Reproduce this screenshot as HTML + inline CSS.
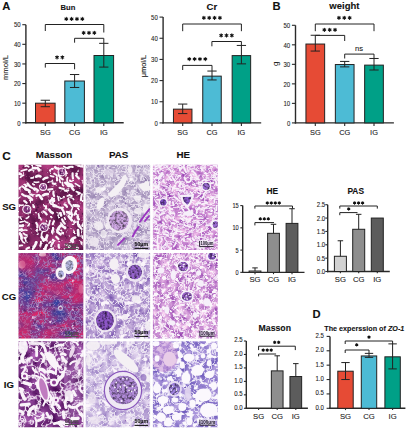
<!DOCTYPE html>
<html><head><meta charset="utf-8"><style>
html,body{margin:0;padding:0;background:#fff;width:410px;height:429px;overflow:hidden}
svg{display:block;font-family:"Liberation Sans", sans-serif}
text{stroke:#1a1a1a;stroke-width:0.1px}
text.nb{stroke:none}
</style></head><body>
<svg width="410" height="429" viewBox="0 0 410 429">
<line x1="25.90" y1="24.70" x2="25.90" y2="123.50" stroke="#2a2a2a" stroke-width="1.4"/>
<line x1="25.20" y1="122.80" x2="123.70" y2="122.80" stroke="#2a2a2a" stroke-width="1.4"/>
<line x1="22.30" y1="122.80" x2="25.90" y2="122.80" stroke="#2a2a2a" stroke-width="1.1"/>
<text x="20.60" y="125.54" font-size="7.6" text-anchor="end" font-weight="normal" fill="#222" textLength="3.3" lengthAdjust="spacingAndGlyphs">0</text>
<line x1="22.30" y1="103.18" x2="25.90" y2="103.18" stroke="#2a2a2a" stroke-width="1.1"/>
<text x="20.60" y="105.92" font-size="7.6" text-anchor="end" font-weight="normal" fill="#222" textLength="6.7" lengthAdjust="spacingAndGlyphs">10</text>
<line x1="22.30" y1="83.56" x2="25.90" y2="83.56" stroke="#2a2a2a" stroke-width="1.1"/>
<text x="20.60" y="86.30" font-size="7.6" text-anchor="end" font-weight="normal" fill="#222" textLength="6.7" lengthAdjust="spacingAndGlyphs">20</text>
<line x1="22.30" y1="63.94" x2="25.90" y2="63.94" stroke="#2a2a2a" stroke-width="1.1"/>
<text x="20.60" y="66.68" font-size="7.6" text-anchor="end" font-weight="normal" fill="#222" textLength="6.7" lengthAdjust="spacingAndGlyphs">30</text>
<line x1="22.30" y1="44.32" x2="25.90" y2="44.32" stroke="#2a2a2a" stroke-width="1.1"/>
<text x="20.60" y="47.06" font-size="7.6" text-anchor="end" font-weight="normal" fill="#222" textLength="6.7" lengthAdjust="spacingAndGlyphs">40</text>
<line x1="22.30" y1="24.70" x2="25.90" y2="24.70" stroke="#2a2a2a" stroke-width="1.1"/>
<text x="20.60" y="27.44" font-size="7.6" text-anchor="end" font-weight="normal" fill="#222" textLength="6.7" lengthAdjust="spacingAndGlyphs">50</text>
<rect x="35.50" y="103.18" width="19.60" height="19.62" fill="#E64B35" stroke="#222" stroke-width="1.0"/>
<line x1="45.30" y1="106.71" x2="45.30" y2="100.24" stroke="#222" stroke-width="1.0"/>
<line x1="40.65" y1="100.24" x2="49.95" y2="100.24" stroke="#222" stroke-width="1.0"/>
<line x1="40.65" y1="106.71" x2="49.95" y2="106.71" stroke="#222" stroke-width="1.0"/>
<line x1="45.30" y1="122.80" x2="45.30" y2="126.00" stroke="#2a2a2a" stroke-width="1.1"/>
<rect x="64.80" y="81.01" width="19.60" height="41.79" fill="#4DBBD5" stroke="#222" stroke-width="1.0"/>
<line x1="74.60" y1="87.48" x2="74.60" y2="74.53" stroke="#222" stroke-width="1.0"/>
<line x1="69.95" y1="74.53" x2="79.25" y2="74.53" stroke="#222" stroke-width="1.0"/>
<line x1="69.95" y1="87.48" x2="79.25" y2="87.48" stroke="#222" stroke-width="1.0"/>
<line x1="74.60" y1="122.80" x2="74.60" y2="126.00" stroke="#2a2a2a" stroke-width="1.1"/>
<rect x="94.00" y="55.50" width="19.60" height="67.30" fill="#00A087" stroke="#222" stroke-width="1.0"/>
<line x1="103.80" y1="67.08" x2="103.80" y2="43.34" stroke="#222" stroke-width="1.0"/>
<line x1="99.15" y1="43.34" x2="108.45" y2="43.34" stroke="#222" stroke-width="1.0"/>
<line x1="99.15" y1="67.08" x2="108.45" y2="67.08" stroke="#222" stroke-width="1.0"/>
<line x1="103.80" y1="122.80" x2="103.80" y2="126.00" stroke="#2a2a2a" stroke-width="1.1"/>
<text x="45.30" y="134.80" font-size="7.4" text-anchor="middle" font-weight="normal" fill="#222">SG</text>
<text x="74.60" y="134.80" font-size="7.4" text-anchor="middle" font-weight="normal" fill="#222">CG</text>
<text x="103.80" y="134.80" font-size="7.4" text-anchor="middle" font-weight="normal" fill="#222">IG</text>
<path d="M45.30 31.00V24.50H103.80V32.50" fill="none" stroke="#222" stroke-width="1.0"/>
<path d="M74.60 42.70V38.30H103.80V43.30" fill="none" stroke="#222" stroke-width="1.0"/>
<path d="M45.30 67.60V63.50H74.60V69.30" fill="none" stroke="#222" stroke-width="1.0"/>
<path d="M66.28 17.30L66.28 20.50M64.89 18.10L67.66 19.70M67.66 18.10L64.89 19.70" stroke="#111" stroke-width="1.05" stroke-linecap="round"/>
<circle cx="66.28" cy="18.90" r="0.88" fill="#111"/>
<path d="M71.62 17.30L71.62 20.50M70.24 18.10L73.01 19.70M73.01 18.10L70.24 19.70" stroke="#111" stroke-width="1.05" stroke-linecap="round"/>
<circle cx="71.62" cy="18.90" r="0.88" fill="#111"/>
<path d="M76.98 17.30L76.98 20.50M75.59 18.10L78.36 19.70M78.36 18.10L75.59 19.70" stroke="#111" stroke-width="1.05" stroke-linecap="round"/>
<circle cx="76.98" cy="18.90" r="0.88" fill="#111"/>
<path d="M82.33 17.30L82.33 20.50M80.94 18.10L83.71 19.70M83.71 18.10L80.94 19.70" stroke="#111" stroke-width="1.05" stroke-linecap="round"/>
<circle cx="82.33" cy="18.90" r="0.88" fill="#111"/>
<path d="M83.65 31.20L83.65 34.40M82.26 32.00L85.04 33.60M85.04 32.00L82.26 33.60" stroke="#111" stroke-width="1.05" stroke-linecap="round"/>
<circle cx="83.65" cy="32.80" r="0.88" fill="#111"/>
<path d="M89.00 31.20L89.00 34.40M87.61 32.00L90.39 33.60M90.39 32.00L87.61 33.60" stroke="#111" stroke-width="1.05" stroke-linecap="round"/>
<circle cx="89.00" cy="32.80" r="0.88" fill="#111"/>
<path d="M94.35 31.20L94.35 34.40M92.96 32.00L95.74 33.60M95.74 32.00L92.96 33.60" stroke="#111" stroke-width="1.05" stroke-linecap="round"/>
<circle cx="94.35" cy="32.80" r="0.88" fill="#111"/>
<path d="M57.03 55.70L57.03 58.90M55.64 56.50L58.41 58.10M58.41 56.50L55.64 58.10" stroke="#111" stroke-width="1.05" stroke-linecap="round"/>
<circle cx="57.03" cy="57.30" r="0.88" fill="#111"/>
<path d="M62.38 55.70L62.38 58.90M60.99 56.50L63.76 58.10M63.76 56.50L60.99 58.10" stroke="#111" stroke-width="1.05" stroke-linecap="round"/>
<circle cx="62.38" cy="57.30" r="0.88" fill="#111"/>
<text x="68.00" y="10.00" font-size="7.6" text-anchor="middle" font-weight="bold" fill="#111">Bun</text>
<text x="2.30" y="10.00" font-size="11.2" text-anchor="start" font-weight="bold" fill="#111">A</text>
<text transform="translate(7.7,67.5) rotate(-90)" font-size="7.2" text-anchor="middle" fill="#222" textLength="25" lengthAdjust="spacingAndGlyphs">mmol/L</text>
<line x1="163.10" y1="17.10" x2="163.10" y2="123.60" stroke="#2a2a2a" stroke-width="1.4"/>
<line x1="162.40" y1="122.90" x2="261.20" y2="122.90" stroke="#2a2a2a" stroke-width="1.4"/>
<line x1="159.50" y1="122.90" x2="163.10" y2="122.90" stroke="#2a2a2a" stroke-width="1.1"/>
<text x="157.80" y="125.64" font-size="7.6" text-anchor="end" font-weight="normal" fill="#222" textLength="3.3" lengthAdjust="spacingAndGlyphs">0</text>
<line x1="159.50" y1="101.74" x2="163.10" y2="101.74" stroke="#2a2a2a" stroke-width="1.1"/>
<text x="157.80" y="104.48" font-size="7.6" text-anchor="end" font-weight="normal" fill="#222" textLength="6.7" lengthAdjust="spacingAndGlyphs">10</text>
<line x1="159.50" y1="80.58" x2="163.10" y2="80.58" stroke="#2a2a2a" stroke-width="1.1"/>
<text x="157.80" y="83.32" font-size="7.6" text-anchor="end" font-weight="normal" fill="#222" textLength="6.7" lengthAdjust="spacingAndGlyphs">20</text>
<line x1="159.50" y1="59.42" x2="163.10" y2="59.42" stroke="#2a2a2a" stroke-width="1.1"/>
<text x="157.80" y="62.16" font-size="7.6" text-anchor="end" font-weight="normal" fill="#222" textLength="6.7" lengthAdjust="spacingAndGlyphs">30</text>
<line x1="159.50" y1="38.26" x2="163.10" y2="38.26" stroke="#2a2a2a" stroke-width="1.1"/>
<text x="157.80" y="41.00" font-size="7.6" text-anchor="end" font-weight="normal" fill="#222" textLength="6.7" lengthAdjust="spacingAndGlyphs">40</text>
<line x1="159.50" y1="17.10" x2="163.10" y2="17.10" stroke="#2a2a2a" stroke-width="1.1"/>
<text x="157.80" y="19.84" font-size="7.6" text-anchor="end" font-weight="normal" fill="#222" textLength="6.7" lengthAdjust="spacingAndGlyphs">50</text>
<rect x="173.45" y="109.15" width="18.50" height="13.75" fill="#E64B35" stroke="#222" stroke-width="1.0"/>
<line x1="182.70" y1="113.59" x2="182.70" y2="104.07" stroke="#222" stroke-width="1.0"/>
<line x1="178.05" y1="104.07" x2="187.35" y2="104.07" stroke="#222" stroke-width="1.0"/>
<line x1="178.05" y1="113.59" x2="187.35" y2="113.59" stroke="#222" stroke-width="1.0"/>
<line x1="182.70" y1="122.90" x2="182.70" y2="126.10" stroke="#2a2a2a" stroke-width="1.1"/>
<rect x="202.75" y="76.14" width="18.50" height="46.76" fill="#4DBBD5" stroke="#222" stroke-width="1.0"/>
<line x1="212.00" y1="79.95" x2="212.00" y2="71.06" stroke="#222" stroke-width="1.0"/>
<line x1="207.35" y1="71.06" x2="216.65" y2="71.06" stroke="#222" stroke-width="1.0"/>
<line x1="207.35" y1="79.95" x2="216.65" y2="79.95" stroke="#222" stroke-width="1.0"/>
<line x1="212.00" y1="122.90" x2="212.00" y2="126.10" stroke="#2a2a2a" stroke-width="1.1"/>
<rect x="232.15" y="55.61" width="18.50" height="67.29" fill="#00A087" stroke="#222" stroke-width="1.0"/>
<line x1="241.40" y1="63.86" x2="241.40" y2="45.45" stroke="#222" stroke-width="1.0"/>
<line x1="236.75" y1="45.45" x2="246.05" y2="45.45" stroke="#222" stroke-width="1.0"/>
<line x1="236.75" y1="63.86" x2="246.05" y2="63.86" stroke="#222" stroke-width="1.0"/>
<line x1="241.40" y1="122.90" x2="241.40" y2="126.10" stroke="#2a2a2a" stroke-width="1.1"/>
<text x="182.70" y="134.80" font-size="7.4" text-anchor="middle" font-weight="normal" fill="#222">SG</text>
<text x="212.00" y="134.80" font-size="7.4" text-anchor="middle" font-weight="normal" fill="#222">CG</text>
<text x="241.40" y="134.80" font-size="7.4" text-anchor="middle" font-weight="normal" fill="#222">IG</text>
<path d="M182.70 31.20V24.00H241.40V31.20" fill="none" stroke="#222" stroke-width="1.0"/>
<path d="M211.90 46.30V41.50H241.40V45.40" fill="none" stroke="#222" stroke-width="1.0"/>
<path d="M182.70 70.00V65.40H212.00V71.00" fill="none" stroke="#222" stroke-width="1.0"/>
<path d="M203.88 16.20L203.88 19.40M202.49 17.00L205.26 18.60M205.26 17.00L202.49 18.60" stroke="#111" stroke-width="1.05" stroke-linecap="round"/>
<circle cx="203.88" cy="17.80" r="0.88" fill="#111"/>
<path d="M209.22 16.20L209.22 19.40M207.84 17.00L210.61 18.60M210.61 17.00L207.84 18.60" stroke="#111" stroke-width="1.05" stroke-linecap="round"/>
<circle cx="209.22" cy="17.80" r="0.88" fill="#111"/>
<path d="M214.57 16.20L214.57 19.40M213.19 17.00L215.96 18.60M215.96 17.00L213.19 18.60" stroke="#111" stroke-width="1.05" stroke-linecap="round"/>
<circle cx="214.57" cy="17.80" r="0.88" fill="#111"/>
<path d="M219.93 16.20L219.93 19.40M218.54 17.00L221.31 18.60M221.31 17.00L218.54 18.60" stroke="#111" stroke-width="1.05" stroke-linecap="round"/>
<circle cx="219.93" cy="17.80" r="0.88" fill="#111"/>
<path d="M221.15 33.80L221.15 37.00M219.76 34.60L222.54 36.20M222.54 34.60L219.76 36.20" stroke="#111" stroke-width="1.05" stroke-linecap="round"/>
<circle cx="221.15" cy="35.40" r="0.88" fill="#111"/>
<path d="M226.50 33.80L226.50 37.00M225.11 34.60L227.89 36.20M227.89 34.60L225.11 36.20" stroke="#111" stroke-width="1.05" stroke-linecap="round"/>
<circle cx="226.50" cy="35.40" r="0.88" fill="#111"/>
<path d="M231.85 33.80L231.85 37.00M230.46 34.60L233.24 36.20M233.24 34.60L230.46 36.20" stroke="#111" stroke-width="1.05" stroke-linecap="round"/>
<circle cx="231.85" cy="35.40" r="0.88" fill="#111"/>
<path d="M189.28 57.40L189.28 60.60M187.89 58.20L190.66 59.80M190.66 58.20L187.89 59.80" stroke="#111" stroke-width="1.05" stroke-linecap="round"/>
<circle cx="189.28" cy="59.00" r="0.88" fill="#111"/>
<path d="M194.62 57.40L194.62 60.60M193.24 58.20L196.01 59.80M196.01 58.20L193.24 59.80" stroke="#111" stroke-width="1.05" stroke-linecap="round"/>
<circle cx="194.62" cy="59.00" r="0.88" fill="#111"/>
<path d="M199.97 57.40L199.97 60.60M198.59 58.20L201.36 59.80M201.36 58.20L198.59 59.80" stroke="#111" stroke-width="1.05" stroke-linecap="round"/>
<circle cx="199.97" cy="59.00" r="0.88" fill="#111"/>
<path d="M205.32 57.40L205.32 60.60M203.94 58.20L206.71 59.80M206.71 58.20L203.94 59.80" stroke="#111" stroke-width="1.05" stroke-linecap="round"/>
<circle cx="205.32" cy="59.00" r="0.88" fill="#111"/>
<text x="211.90" y="9.80" font-size="9.6" text-anchor="middle" font-weight="bold" fill="#111">Cr</text>
<text transform="translate(146,66) rotate(-90)" font-size="7.8" text-anchor="middle" fill="#222" textLength="22.3" lengthAdjust="spacingAndGlyphs">μmol/L</text>
<line x1="295.50" y1="25.30" x2="295.50" y2="123.60" stroke="#2a2a2a" stroke-width="1.4"/>
<line x1="294.80" y1="122.90" x2="393.90" y2="122.90" stroke="#2a2a2a" stroke-width="1.4"/>
<line x1="291.90" y1="122.90" x2="295.50" y2="122.90" stroke="#2a2a2a" stroke-width="1.1"/>
<text x="290.20" y="125.64" font-size="7.6" text-anchor="end" font-weight="normal" fill="#222" textLength="3.3" lengthAdjust="spacingAndGlyphs">0</text>
<line x1="291.90" y1="103.38" x2="295.50" y2="103.38" stroke="#2a2a2a" stroke-width="1.1"/>
<text x="290.20" y="106.12" font-size="7.6" text-anchor="end" font-weight="normal" fill="#222" textLength="6.7" lengthAdjust="spacingAndGlyphs">10</text>
<line x1="291.90" y1="83.86" x2="295.50" y2="83.86" stroke="#2a2a2a" stroke-width="1.1"/>
<text x="290.20" y="86.60" font-size="7.6" text-anchor="end" font-weight="normal" fill="#222" textLength="6.7" lengthAdjust="spacingAndGlyphs">20</text>
<line x1="291.90" y1="64.34" x2="295.50" y2="64.34" stroke="#2a2a2a" stroke-width="1.1"/>
<text x="290.20" y="67.08" font-size="7.6" text-anchor="end" font-weight="normal" fill="#222" textLength="6.7" lengthAdjust="spacingAndGlyphs">30</text>
<line x1="291.90" y1="44.82" x2="295.50" y2="44.82" stroke="#2a2a2a" stroke-width="1.1"/>
<text x="290.20" y="47.56" font-size="7.6" text-anchor="end" font-weight="normal" fill="#222" textLength="6.7" lengthAdjust="spacingAndGlyphs">40</text>
<line x1="291.90" y1="25.30" x2="295.50" y2="25.30" stroke="#2a2a2a" stroke-width="1.1"/>
<text x="290.20" y="28.04" font-size="7.6" text-anchor="end" font-weight="normal" fill="#222" textLength="6.7" lengthAdjust="spacingAndGlyphs">50</text>
<rect x="305.95" y="44.04" width="18.70" height="78.86" fill="#E64B35" stroke="#222" stroke-width="1.0"/>
<line x1="315.30" y1="51.07" x2="315.30" y2="35.26" stroke="#222" stroke-width="1.0"/>
<line x1="310.65" y1="35.26" x2="319.95" y2="35.26" stroke="#222" stroke-width="1.0"/>
<line x1="310.65" y1="51.07" x2="319.95" y2="51.07" stroke="#222" stroke-width="1.0"/>
<line x1="315.30" y1="122.90" x2="315.30" y2="126.10" stroke="#2a2a2a" stroke-width="1.1"/>
<rect x="335.35" y="64.54" width="18.70" height="58.36" fill="#4DBBD5" stroke="#222" stroke-width="1.0"/>
<line x1="344.70" y1="66.88" x2="344.70" y2="61.41" stroke="#222" stroke-width="1.0"/>
<line x1="340.05" y1="61.41" x2="349.35" y2="61.41" stroke="#222" stroke-width="1.0"/>
<line x1="340.05" y1="66.88" x2="349.35" y2="66.88" stroke="#222" stroke-width="1.0"/>
<line x1="344.70" y1="122.90" x2="344.70" y2="126.10" stroke="#2a2a2a" stroke-width="1.1"/>
<rect x="364.65" y="65.12" width="18.70" height="57.78" fill="#00A087" stroke="#222" stroke-width="1.0"/>
<line x1="374.00" y1="70.00" x2="374.00" y2="58.48" stroke="#222" stroke-width="1.0"/>
<line x1="369.35" y1="58.48" x2="378.65" y2="58.48" stroke="#222" stroke-width="1.0"/>
<line x1="369.35" y1="70.00" x2="378.65" y2="70.00" stroke="#222" stroke-width="1.0"/>
<line x1="374.00" y1="122.90" x2="374.00" y2="126.10" stroke="#2a2a2a" stroke-width="1.1"/>
<text x="315.30" y="134.80" font-size="7.4" text-anchor="middle" font-weight="normal" fill="#222">SG</text>
<text x="344.70" y="134.80" font-size="7.4" text-anchor="middle" font-weight="normal" fill="#222">CG</text>
<text x="374.00" y="134.80" font-size="7.4" text-anchor="middle" font-weight="normal" fill="#222">IG</text>
<path d="M315.30 31.20V24.00H374.00V31.20" fill="none" stroke="#222" stroke-width="1.0"/>
<path d="M315.30 35.40V35.40H344.70V41.00" fill="none" stroke="#222" stroke-width="1.0"/>
<path d="M344.70 58.50V54.10H374.00V58.50" fill="none" stroke="#222" stroke-width="1.0"/>
<path d="M338.95 16.20L338.95 19.40M337.56 17.00L340.34 18.60M340.34 17.00L337.56 18.60" stroke="#111" stroke-width="1.05" stroke-linecap="round"/>
<circle cx="338.95" cy="17.80" r="0.88" fill="#111"/>
<path d="M344.30 16.20L344.30 19.40M342.91 17.00L345.69 18.60M345.69 17.00L342.91 18.60" stroke="#111" stroke-width="1.05" stroke-linecap="round"/>
<circle cx="344.30" cy="17.80" r="0.88" fill="#111"/>
<path d="M349.65 16.20L349.65 19.40M348.26 17.00L351.04 18.60M351.04 17.00L348.26 18.60" stroke="#111" stroke-width="1.05" stroke-linecap="round"/>
<circle cx="349.65" cy="17.80" r="0.88" fill="#111"/>
<path d="M324.35 28.20L324.35 31.40M322.96 29.00L325.74 30.60M325.74 29.00L322.96 30.60" stroke="#111" stroke-width="1.05" stroke-linecap="round"/>
<circle cx="324.35" cy="29.80" r="0.88" fill="#111"/>
<path d="M329.70 28.20L329.70 31.40M328.31 29.00L331.09 30.60M331.09 29.00L328.31 30.60" stroke="#111" stroke-width="1.05" stroke-linecap="round"/>
<circle cx="329.70" cy="29.80" r="0.88" fill="#111"/>
<path d="M335.05 28.20L335.05 31.40M333.66 29.00L336.44 30.60M336.44 29.00L333.66 30.60" stroke="#111" stroke-width="1.05" stroke-linecap="round"/>
<circle cx="335.05" cy="29.80" r="0.88" fill="#111"/>
<text x="344.40" y="8.80" font-size="9.5" text-anchor="middle" font-weight="bold" fill="#111">weight</text>
<text x="272.40" y="9.90" font-size="11.2" text-anchor="start" font-weight="bold" fill="#111">B</text>
<text x="359.00" y="50.60" font-size="7.6" text-anchor="middle" font-weight="normal" fill="#222">ns</text>
<text transform="translate(278,63.8) rotate(-90)" font-size="8" text-anchor="middle" fill="#222">g</text>
<line x1="242.70" y1="205.60" x2="242.70" y2="273.05" stroke="#2a2a2a" stroke-width="1.4"/>
<line x1="242.00" y1="272.35" x2="304.50" y2="272.35" stroke="#2a2a2a" stroke-width="1.4"/>
<line x1="240.30" y1="272.35" x2="242.70" y2="272.35" stroke="#2a2a2a" stroke-width="1.1"/>
<text x="238.70" y="274.83" font-size="6.9" text-anchor="end" font-weight="normal" fill="#222" textLength="3.1" lengthAdjust="spacingAndGlyphs">0</text>
<line x1="240.30" y1="250.10" x2="242.70" y2="250.10" stroke="#2a2a2a" stroke-width="1.1"/>
<text x="238.70" y="252.58" font-size="6.9" text-anchor="end" font-weight="normal" fill="#222" textLength="3.1" lengthAdjust="spacingAndGlyphs">5</text>
<line x1="240.30" y1="227.85" x2="242.70" y2="227.85" stroke="#2a2a2a" stroke-width="1.1"/>
<text x="238.70" y="230.33" font-size="6.9" text-anchor="end" font-weight="normal" fill="#222" textLength="6.3" lengthAdjust="spacingAndGlyphs">10</text>
<line x1="240.30" y1="205.60" x2="242.70" y2="205.60" stroke="#2a2a2a" stroke-width="1.1"/>
<text x="238.70" y="208.08" font-size="6.9" text-anchor="end" font-weight="normal" fill="#222" textLength="6.3" lengthAdjust="spacingAndGlyphs">15</text>
<rect x="249.10" y="271.02" width="11.80" height="1.33" fill="#d2d2d2" stroke="#222" stroke-width="1.0"/>
<line x1="255.00" y1="271.02" x2="255.00" y2="267.90" stroke="#222" stroke-width="1.0"/>
<line x1="252.25" y1="267.90" x2="257.75" y2="267.90" stroke="#222" stroke-width="1.0"/>
<line x1="255.00" y1="272.35" x2="255.00" y2="274.15" stroke="#2a2a2a" stroke-width="1.1"/>
<rect x="267.60" y="233.32" width="11.80" height="39.03" fill="#8e8e8e" stroke="#222" stroke-width="1.0"/>
<line x1="273.50" y1="233.32" x2="273.50" y2="224.29" stroke="#222" stroke-width="1.0"/>
<line x1="270.75" y1="224.29" x2="276.25" y2="224.29" stroke="#222" stroke-width="1.0"/>
<line x1="273.50" y1="272.35" x2="273.50" y2="274.15" stroke="#2a2a2a" stroke-width="1.1"/>
<rect x="286.10" y="223.40" width="11.80" height="48.95" fill="#5c5c5c" stroke="#222" stroke-width="1.0"/>
<line x1="292.00" y1="223.40" x2="292.00" y2="208.72" stroke="#222" stroke-width="1.0"/>
<line x1="289.25" y1="208.72" x2="294.75" y2="208.72" stroke="#222" stroke-width="1.0"/>
<line x1="292.00" y1="272.35" x2="292.00" y2="274.15" stroke="#2a2a2a" stroke-width="1.1"/>
<text x="255.00" y="282.10" font-size="7.7" text-anchor="middle" font-weight="normal" fill="#222">SG</text>
<text x="273.50" y="282.10" font-size="7.7" text-anchor="middle" font-weight="normal" fill="#222">CG</text>
<text x="292.00" y="282.10" font-size="7.7" text-anchor="middle" font-weight="normal" fill="#222">IG</text>
<path d="M254.90 208.60V206.00H292.50V208.60" fill="none" stroke="#222" stroke-width="1.0"/>
<path d="M254.90 225.40V222.60H274.00V222.60" fill="none" stroke="#222" stroke-width="1.0"/>
<path d="M267.30 201.65L267.30 204.15M266.22 202.28L268.38 203.53M268.38 202.28L266.22 203.53" stroke="#111" stroke-width="1.05" stroke-linecap="round"/>
<circle cx="267.30" cy="202.90" r="0.69" fill="#111"/>
<path d="M271.30 201.65L271.30 204.15M270.22 202.28L272.38 203.53M272.38 202.28L270.22 203.53" stroke="#111" stroke-width="1.05" stroke-linecap="round"/>
<circle cx="271.30" cy="202.90" r="0.69" fill="#111"/>
<path d="M275.30 201.65L275.30 204.15M274.22 202.28L276.38 203.53M276.38 202.28L274.22 203.53" stroke="#111" stroke-width="1.05" stroke-linecap="round"/>
<circle cx="275.30" cy="202.90" r="0.69" fill="#111"/>
<path d="M279.30 201.65L279.30 204.15M278.22 202.28L280.38 203.53M280.38 202.28L278.22 203.53" stroke="#111" stroke-width="1.05" stroke-linecap="round"/>
<circle cx="279.30" cy="202.90" r="0.69" fill="#111"/>
<path d="M260.30 217.55L260.30 220.05M259.22 218.18L261.38 219.43M261.38 218.18L259.22 219.43" stroke="#111" stroke-width="1.05" stroke-linecap="round"/>
<circle cx="260.30" cy="218.80" r="0.69" fill="#111"/>
<path d="M264.30 217.55L264.30 220.05M263.22 218.18L265.38 219.43M265.38 218.18L263.22 219.43" stroke="#111" stroke-width="1.05" stroke-linecap="round"/>
<circle cx="264.30" cy="218.80" r="0.69" fill="#111"/>
<path d="M268.30 217.55L268.30 220.05M267.22 218.18L269.38 219.43M269.38 218.18L267.22 219.43" stroke="#111" stroke-width="1.05" stroke-linecap="round"/>
<circle cx="268.30" cy="218.80" r="0.69" fill="#111"/>
<text x="272.30" y="194.10" font-size="8.4" text-anchor="middle" font-weight="bold" fill="#111">HE</text>
<line x1="327.70" y1="204.70" x2="327.70" y2="272.20" stroke="#2a2a2a" stroke-width="1.4"/>
<line x1="327.00" y1="271.50" x2="389.80" y2="271.50" stroke="#2a2a2a" stroke-width="1.4"/>
<line x1="325.30" y1="271.50" x2="327.70" y2="271.50" stroke="#2a2a2a" stroke-width="1.1"/>
<text x="325.20" y="273.98" font-size="6.9" text-anchor="end" font-weight="normal" fill="#222" textLength="8.4" lengthAdjust="spacingAndGlyphs">0.0</text>
<line x1="325.30" y1="258.14" x2="327.70" y2="258.14" stroke="#2a2a2a" stroke-width="1.1"/>
<text x="325.20" y="260.62" font-size="6.9" text-anchor="end" font-weight="normal" fill="#222" textLength="8.4" lengthAdjust="spacingAndGlyphs">0.5</text>
<line x1="325.30" y1="244.78" x2="327.70" y2="244.78" stroke="#2a2a2a" stroke-width="1.1"/>
<text x="325.20" y="247.26" font-size="6.9" text-anchor="end" font-weight="normal" fill="#222" textLength="8.4" lengthAdjust="spacingAndGlyphs">1.0</text>
<line x1="325.30" y1="231.42" x2="327.70" y2="231.42" stroke="#2a2a2a" stroke-width="1.1"/>
<text x="325.20" y="233.90" font-size="6.9" text-anchor="end" font-weight="normal" fill="#222" textLength="8.4" lengthAdjust="spacingAndGlyphs">1.5</text>
<line x1="325.30" y1="218.06" x2="327.70" y2="218.06" stroke="#2a2a2a" stroke-width="1.1"/>
<text x="325.20" y="220.54" font-size="6.9" text-anchor="end" font-weight="normal" fill="#222" textLength="8.4" lengthAdjust="spacingAndGlyphs">2.0</text>
<line x1="325.30" y1="204.70" x2="327.70" y2="204.70" stroke="#2a2a2a" stroke-width="1.1"/>
<text x="325.20" y="207.18" font-size="6.9" text-anchor="end" font-weight="normal" fill="#222" textLength="8.4" lengthAdjust="spacingAndGlyphs">2.5</text>
<rect x="334.40" y="256.27" width="12.00" height="15.23" fill="#d2d2d2" stroke="#222" stroke-width="1.0"/>
<line x1="340.40" y1="256.27" x2="340.40" y2="240.77" stroke="#222" stroke-width="1.0"/>
<line x1="337.65" y1="240.77" x2="343.15" y2="240.77" stroke="#222" stroke-width="1.0"/>
<line x1="340.40" y1="271.50" x2="340.40" y2="273.30" stroke="#2a2a2a" stroke-width="1.1"/>
<rect x="352.70" y="229.28" width="12.00" height="42.22" fill="#8e8e8e" stroke="#222" stroke-width="1.0"/>
<line x1="358.70" y1="229.28" x2="358.70" y2="214.32" stroke="#222" stroke-width="1.0"/>
<line x1="355.95" y1="214.32" x2="361.45" y2="214.32" stroke="#222" stroke-width="1.0"/>
<line x1="358.70" y1="271.50" x2="358.70" y2="273.30" stroke="#2a2a2a" stroke-width="1.1"/>
<rect x="371.30" y="218.06" width="12.00" height="53.44" fill="#5c5c5c" stroke="#222" stroke-width="1.0"/>
<line x1="377.30" y1="271.50" x2="377.30" y2="273.30" stroke="#2a2a2a" stroke-width="1.1"/>
<text x="340.40" y="282.10" font-size="7.7" text-anchor="middle" font-weight="normal" fill="#222">SG</text>
<text x="358.70" y="282.10" font-size="7.7" text-anchor="middle" font-weight="normal" fill="#222">CG</text>
<text x="377.30" y="282.10" font-size="7.7" text-anchor="middle" font-weight="normal" fill="#222">IG</text>
<path d="M339.80 208.60V206.00H377.30V208.60" fill="none" stroke="#222" stroke-width="1.0"/>
<path d="M339.80 215.20V212.60H357.50V212.60" fill="none" stroke="#222" stroke-width="1.0"/>
<path d="M354.60 201.65L354.60 204.15M353.52 202.28L355.68 203.53M355.68 202.28L353.52 203.53" stroke="#111" stroke-width="1.05" stroke-linecap="round"/>
<circle cx="354.60" cy="202.90" r="0.69" fill="#111"/>
<path d="M358.60 201.65L358.60 204.15M357.52 202.28L359.68 203.53M359.68 202.28L357.52 203.53" stroke="#111" stroke-width="1.05" stroke-linecap="round"/>
<circle cx="358.60" cy="202.90" r="0.69" fill="#111"/>
<path d="M362.60 201.65L362.60 204.15M361.52 202.28L363.68 203.53M363.68 202.28L361.52 203.53" stroke="#111" stroke-width="1.05" stroke-linecap="round"/>
<circle cx="362.60" cy="202.90" r="0.69" fill="#111"/>
<path d="M348.70 207.65L348.70 210.15M347.62 208.28L349.78 209.53M349.78 208.28L347.62 209.53" stroke="#111" stroke-width="1.05" stroke-linecap="round"/>
<circle cx="348.70" cy="208.90" r="0.69" fill="#111"/>
<text x="355.70" y="194.10" font-size="8.4" text-anchor="middle" font-weight="bold" fill="#111">PAS</text>
<line x1="246.30" y1="341.00" x2="246.30" y2="409.00" stroke="#2a2a2a" stroke-width="1.4"/>
<line x1="245.60" y1="408.30" x2="307.90" y2="408.30" stroke="#2a2a2a" stroke-width="1.4"/>
<line x1="243.90" y1="408.30" x2="246.30" y2="408.30" stroke="#2a2a2a" stroke-width="1.1"/>
<text x="242.60" y="409.58" font-size="6.9" text-anchor="end" font-weight="normal" fill="#222" textLength="8.4" lengthAdjust="spacingAndGlyphs">0.0</text>
<line x1="243.90" y1="394.84" x2="246.30" y2="394.84" stroke="#2a2a2a" stroke-width="1.1"/>
<text x="242.60" y="396.12" font-size="6.9" text-anchor="end" font-weight="normal" fill="#222" textLength="8.4" lengthAdjust="spacingAndGlyphs">0.5</text>
<line x1="243.90" y1="381.38" x2="246.30" y2="381.38" stroke="#2a2a2a" stroke-width="1.1"/>
<text x="242.60" y="382.66" font-size="6.9" text-anchor="end" font-weight="normal" fill="#222" textLength="8.4" lengthAdjust="spacingAndGlyphs">1.0</text>
<line x1="243.90" y1="367.92" x2="246.30" y2="367.92" stroke="#2a2a2a" stroke-width="1.1"/>
<text x="242.60" y="369.20" font-size="6.9" text-anchor="end" font-weight="normal" fill="#222" textLength="8.4" lengthAdjust="spacingAndGlyphs">1.5</text>
<line x1="243.90" y1="354.46" x2="246.30" y2="354.46" stroke="#2a2a2a" stroke-width="1.1"/>
<text x="242.60" y="355.74" font-size="6.9" text-anchor="end" font-weight="normal" fill="#222" textLength="8.4" lengthAdjust="spacingAndGlyphs">2.0</text>
<line x1="243.90" y1="341.00" x2="246.30" y2="341.00" stroke="#2a2a2a" stroke-width="1.1"/>
<text x="242.60" y="342.28" font-size="6.9" text-anchor="end" font-weight="normal" fill="#222" textLength="8.4" lengthAdjust="spacingAndGlyphs">2.5</text>
<line x1="258.60" y1="408.30" x2="258.60" y2="410.10" stroke="#2a2a2a" stroke-width="1.1"/>
<rect x="271.35" y="370.88" width="11.70" height="37.42" fill="#8e8e8e" stroke="#222" stroke-width="1.0"/>
<line x1="277.20" y1="370.88" x2="277.20" y2="355.81" stroke="#222" stroke-width="1.0"/>
<line x1="274.45" y1="355.81" x2="279.95" y2="355.81" stroke="#222" stroke-width="1.0"/>
<line x1="277.20" y1="408.30" x2="277.20" y2="410.10" stroke="#2a2a2a" stroke-width="1.1"/>
<rect x="289.95" y="376.53" width="11.70" height="31.77" fill="#5c5c5c" stroke="#222" stroke-width="1.0"/>
<line x1="295.80" y1="376.53" x2="295.80" y2="363.61" stroke="#222" stroke-width="1.0"/>
<line x1="293.05" y1="363.61" x2="298.55" y2="363.61" stroke="#222" stroke-width="1.0"/>
<line x1="295.80" y1="408.30" x2="295.80" y2="410.10" stroke="#2a2a2a" stroke-width="1.1"/>
<text x="258.60" y="418.50" font-size="7.7" text-anchor="middle" font-weight="normal" fill="#222">SG</text>
<text x="277.20" y="418.50" font-size="7.7" text-anchor="middle" font-weight="normal" fill="#222">CG</text>
<text x="295.80" y="418.50" font-size="7.7" text-anchor="middle" font-weight="normal" fill="#222">IG</text>
<path d="M258.60 350.10V346.20H295.30V350.10" fill="none" stroke="#222" stroke-width="1.0"/>
<path d="M258.60 356.40V354.00H276.10V354.00" fill="none" stroke="#222" stroke-width="1.0"/>
<path d="M274.70 341.05L274.70 343.55M273.62 341.68L275.78 342.93M275.78 341.68L273.62 342.93" stroke="#111" stroke-width="1.05" stroke-linecap="round"/>
<circle cx="274.70" cy="342.30" r="0.69" fill="#111"/>
<path d="M278.70 341.05L278.70 343.55M277.62 341.68L279.78 342.93M279.78 341.68L277.62 342.93" stroke="#111" stroke-width="1.05" stroke-linecap="round"/>
<circle cx="278.70" cy="342.30" r="0.69" fill="#111"/>
<path d="M263.20 348.85L263.20 351.35M262.12 349.48L264.28 350.73M264.28 349.48L262.12 350.73" stroke="#111" stroke-width="1.05" stroke-linecap="round"/>
<circle cx="263.20" cy="350.10" r="0.69" fill="#111"/>
<path d="M267.20 348.85L267.20 351.35M266.12 349.48L268.28 350.73M268.28 349.48L266.12 350.73" stroke="#111" stroke-width="1.05" stroke-linecap="round"/>
<circle cx="267.20" cy="350.10" r="0.69" fill="#111"/>
<path d="M271.20 348.85L271.20 351.35M270.12 349.48L272.28 350.73M272.28 349.48L270.12 350.73" stroke="#111" stroke-width="1.05" stroke-linecap="round"/>
<circle cx="271.20" cy="350.10" r="0.69" fill="#111"/>
<text x="274.80" y="331.20" font-size="8.7" text-anchor="middle" font-weight="bold" fill="#111">Masson</text>
<line x1="330.00" y1="336.40" x2="330.00" y2="409.00" stroke="#2a2a2a" stroke-width="1.4"/>
<line x1="329.30" y1="408.30" x2="405.40" y2="408.30" stroke="#2a2a2a" stroke-width="1.4"/>
<line x1="326.60" y1="408.30" x2="330.00" y2="408.30" stroke="#2a2a2a" stroke-width="1.1"/>
<text x="323.80" y="409.68" font-size="6.9" text-anchor="end" font-weight="normal" fill="#222" textLength="8.4" lengthAdjust="spacingAndGlyphs">0.0</text>
<line x1="326.60" y1="393.92" x2="330.00" y2="393.92" stroke="#2a2a2a" stroke-width="1.1"/>
<text x="323.80" y="395.30" font-size="6.9" text-anchor="end" font-weight="normal" fill="#222" textLength="8.4" lengthAdjust="spacingAndGlyphs">0.5</text>
<line x1="326.60" y1="379.54" x2="330.00" y2="379.54" stroke="#2a2a2a" stroke-width="1.1"/>
<text x="323.80" y="380.92" font-size="6.9" text-anchor="end" font-weight="normal" fill="#222" textLength="8.4" lengthAdjust="spacingAndGlyphs">1.0</text>
<line x1="326.60" y1="365.16" x2="330.00" y2="365.16" stroke="#2a2a2a" stroke-width="1.1"/>
<text x="323.80" y="366.54" font-size="6.9" text-anchor="end" font-weight="normal" fill="#222" textLength="8.4" lengthAdjust="spacingAndGlyphs">1.5</text>
<line x1="326.60" y1="350.78" x2="330.00" y2="350.78" stroke="#2a2a2a" stroke-width="1.1"/>
<text x="323.80" y="352.16" font-size="6.9" text-anchor="end" font-weight="normal" fill="#222" textLength="8.4" lengthAdjust="spacingAndGlyphs">2.0</text>
<line x1="326.60" y1="336.40" x2="330.00" y2="336.40" stroke="#2a2a2a" stroke-width="1.1"/>
<text x="323.80" y="337.78" font-size="6.9" text-anchor="end" font-weight="normal" fill="#222" textLength="8.4" lengthAdjust="spacingAndGlyphs">2.5</text>
<rect x="337.80" y="371.20" width="15.40" height="37.10" fill="#E64B35" stroke="#222" stroke-width="1.0"/>
<line x1="345.50" y1="379.54" x2="345.50" y2="362.57" stroke="#222" stroke-width="1.0"/>
<line x1="341.30" y1="362.57" x2="349.70" y2="362.57" stroke="#222" stroke-width="1.0"/>
<line x1="341.30" y1="379.54" x2="349.70" y2="379.54" stroke="#222" stroke-width="1.0"/>
<line x1="345.50" y1="408.30" x2="345.50" y2="410.10" stroke="#2a2a2a" stroke-width="1.1"/>
<rect x="361.30" y="355.96" width="15.40" height="52.34" fill="#4DBBD5" stroke="#222" stroke-width="1.0"/>
<line x1="369.00" y1="357.39" x2="369.00" y2="353.37" stroke="#222" stroke-width="1.0"/>
<line x1="364.80" y1="353.37" x2="373.20" y2="353.37" stroke="#222" stroke-width="1.0"/>
<line x1="364.80" y1="357.39" x2="373.20" y2="357.39" stroke="#222" stroke-width="1.0"/>
<line x1="369.00" y1="408.30" x2="369.00" y2="410.10" stroke="#2a2a2a" stroke-width="1.1"/>
<rect x="384.90" y="356.82" width="15.40" height="51.48" fill="#00A087" stroke="#222" stroke-width="1.0"/>
<line x1="392.60" y1="368.90" x2="392.60" y2="343.88" stroke="#222" stroke-width="1.0"/>
<line x1="388.40" y1="343.88" x2="396.80" y2="343.88" stroke="#222" stroke-width="1.0"/>
<line x1="388.40" y1="368.90" x2="396.80" y2="368.90" stroke="#222" stroke-width="1.0"/>
<line x1="392.60" y1="408.30" x2="392.60" y2="410.10" stroke="#2a2a2a" stroke-width="1.1"/>
<text x="345.50" y="418.90" font-size="7.7" text-anchor="middle" font-weight="normal" fill="#222">SG</text>
<text x="369.00" y="418.90" font-size="7.7" text-anchor="middle" font-weight="normal" fill="#222">CG</text>
<text x="392.60" y="418.90" font-size="7.7" text-anchor="middle" font-weight="normal" fill="#222">IG</text>
<path d="M345.20 344.00V341.00H392.60V344.00" fill="none" stroke="#222" stroke-width="1.0"/>
<path d="M345.20 353.00V350.00H369.00V353.00" fill="none" stroke="#222" stroke-width="1.0"/>
<path d="M369.00 335.85L369.00 338.35M367.92 336.48L370.08 337.73M370.08 336.48L367.92 337.73" stroke="#111" stroke-width="1.05" stroke-linecap="round"/>
<circle cx="369.00" cy="337.10" r="0.69" fill="#111"/>
<path d="M356.70 343.55L356.70 346.05M355.62 344.18L357.78 345.43M357.78 344.18L355.62 345.43" stroke="#111" stroke-width="1.05" stroke-linecap="round"/>
<circle cx="356.70" cy="344.80" r="0.69" fill="#111"/>
<text x="312.40" y="318.40" font-size="11.2" text-anchor="start" font-weight="bold" fill="#111">D</text>
<text x="324.30" y="330.80" font-size="7.6" text-anchor="start" font-weight="bold" fill="#111" textLength="80.0" lengthAdjust="spacingAndGlyphs">The experssion of <tspan font-style="italic">ZO-1</tspan></text>
<text x="2.30" y="160.00" font-size="11.8" text-anchor="start" font-weight="bold" fill="#111">C</text>
<text x="54.10" y="157.70" font-size="9.8" text-anchor="middle" font-weight="bold" fill="#111">Masson</text>
<text x="118.70" y="157.70" font-size="9.8" text-anchor="middle" font-weight="bold" fill="#111">PAS</text>
<text x="183.30" y="157.70" font-size="9.8" text-anchor="middle" font-weight="bold" fill="#111">HE</text>
<text x="9.10" y="209.90" font-size="9.6" text-anchor="middle" font-weight="bold" fill="#111">SG</text>
<text x="9.00" y="300.00" font-size="9.6" text-anchor="middle" font-weight="bold" fill="#111">CG</text>
<text x="8.90" y="387.80" font-size="9.6" text-anchor="middle" font-weight="bold" fill="#111">IG</text>
<g clip-path="url(#cmSG)">
<rect x="18.5" y="164.8" width="64.8" height="85.3" filter="url(#tmSG)"/>
<g filter="url(#sb)"><path d="M17.5 204.1q2.6 1.8 5.7 0.9M30.3 186.9q3.0 0.8 4.5 3.5M26.3 218.4q1.6 -0.4 2.4 -1.8M68.1 245.2q0.8 1.4 1.0 2.9M70.6 204.3q0.6 1.8 2.0 3.0M67.3 196.0q2.3 -1.2 4.5 0.1M22.3 245.4q-1.4 -0.1 -2.8 0.1M40.9 241.5q0.1 2.3 -0.7 4.4M72.2 208.7q-1.1 1.3 -0.9 3.0M63.8 166.5q1.3 0.9 2.8 1.3M67.6 177.7q-1.3 2.6 0.2 5.0M20.5 177.2q1.1 -1.5 3.0 -2.0M75.1 164.3q1.9 0.3 3.8 1.0M52.4 248.5q-2.4 0.0 -3.9 1.8M50.0 220.6q-0.6 2.4 -1.3 4.8M21.2 171.0q2.7 -1.0 5.6 -1.6M76.9 247.1q0.5 2.6 -0.8 4.9M54.0 173.6q2.2 0.4 3.0 2.5M38.6 213.9q0.6 2.1 0.5 4.2M50.4 175.8q1.5 0.8 3.2 0.8M25.2 166.1q2.0 -0.7 3.6 0.7M49.8 202.3q0.9 2.0 3.1 2.4M62.5 182.4q-0.2 1.5 0.3 2.9M76.3 191.6q1.8 1.1 3.8 1.5M33.1 204.8q0.8 1.1 1.2 2.3M24.6 221.0q1.3 1.3 3.1 1.7M24.6 243.0q-2.3 -0.8 -2.9 -3.1M59.6 179.2q-0.2 1.7 0.8 3.2M21.5 231.1q2.5 -1.6 5.3 -0.9M16.4 191.2q1.0 -3.2 4.2 -4.0M30.1 194.7q1.7 0.0 2.8 1.2M20.1 222.1q1.5 -0.3 3.0 -0.6M23.5 233.3q1.2 1.9 3.5 1.8M75.3 183.6q2.1 1.3 4.2 2.7M34.2 182.0q2.2 0.7 4.5 -0.0M42.9 231.2q-1.9 2.3 -1.2 5.2M58.2 197.5q0.3 1.5 0.6 2.9M78.0 166.0q2.7 -0.2 5.1 1.0" stroke="#fbf6fb" stroke-width="1.7" stroke-linecap="round" fill="none"/><path d="M54.0 221.1q-0.9 1.4 -1.2 3.0M36.4 196.0q1.3 -1.2 3.0 -0.8M71.4 212.5q1.3 2.3 0.1 4.6M58.7 244.8q-0.4 1.5 0.4 2.9M52.9 229.6q-0.9 1.2 -0.9 2.7M52.0 198.2q0.6 1.7 2.2 2.5M58.6 175.1q1.3 2.9 4.1 4.3M72.6 173.4q-0.2 2.6 0.4 5.0M24.2 200.9q1.4 0.6 2.4 1.9M64.5 204.4q1.8 0.7 2.5 2.5M22.2 186.4q2.3 1.3 4.1 3.2M62.1 219.3q0.8 2.5 2.7 4.4M71.5 184.6q-0.4 3.4 2.3 5.5M34.5 188.3q2.0 0.9 3.6 2.3M29.1 247.6q-1.7 0.2 -2.7 1.6M52.7 243.1q-1.5 1.3 -1.5 3.2M61.9 208.8q1.9 2.4 2.5 5.3M53.5 191.5q-0.6 2.4 0.6 4.5M43.4 211.5q2.2 0.8 3.3 2.9M76.1 211.1q-0.8 1.8 -1.7 3.6M81.9 194.3q-0.8 2.9 -0.9 5.8M64.8 190.6q1.7 0.8 3.4 -0.2M48.3 189.5q2.1 0.0 4.1 -0.5M67.5 185.5q1.6 1.2 3.4 0.5M36.3 222.9q1.8 2.0 1.0 4.5M68.3 199.1q0.3 2.3 1.2 4.3M35.7 164.2q2.3 1.3 4.9 1.8M76.1 175.4q1.4 1.5 2.8 3.1M43.2 179.5q1.7 -2.0 4.3 -1.9M52.8 183.5q1.3 0.6 2.7 0.2M67.6 167.8q2.3 -1.5 5.0 -0.9M29.0 170.8q1.0 -1.0 2.4 -1.1M27.5 183.4q1.2 2.1 3.1 3.7M57.7 206.9q2.4 1.4 5.2 0.7M56.2 236.7q1.1 1.2 2.2 2.4M59.6 187.8q1.9 1.0 4.1 1.0M79.1 224.8q0.5 2.6 2.6 4.2M66.8 211.9q1.4 -0.1 2.5 0.8M78.0 221.5q-0.5 2.5 0.6 4.8M22.1 194.1q1.8 1.5 4.0 2.1" stroke="#fbf6fb" stroke-width="2.2" stroke-linecap="round" fill="none"/><path d="M60.3 225.9q-2.1 1.8 -2.9 4.4M41.7 237.2q1.4 1.4 1.8 3.4M36.4 242.3q-1.0 2.7 -2.6 5.2M68.7 216.3q1.6 1.9 3.1 3.9M77.8 216.2q-0.4 1.7 0.8 3.0M60.1 213.2q0.9 1.0 1.0 2.3M75.1 237.5q-2.8 0.4 -3.9 3.0M61.5 224.4q1.2 2.4 3.6 3.6M43.1 195.3q2.1 -1.4 4.7 -1.2M16.3 173.7q2.3 -0.7 4.4 0.5M32.9 168.2q1.5 -0.1 3.0 -0.1M55.2 167.3q1.3 1.4 3.1 1.3M83.7 223.4q-0.1 1.4 -1.1 2.4M25.4 189.1q2.3 0.4 4.1 1.7M40.3 196.4q0.6 1.4 1.6 2.5M47.2 235.4q-0.8 2.0 -1.2 4.1M73.6 205.3q2.5 0.4 5.1 1.0M18.4 225.8q2.3 0.2 4.5 -0.1M21.5 238.7q0.5 -3.0 -1.6 -5.2M37.7 168.0q1.1 0.9 1.3 2.3M16.8 229.2q2.4 1.5 4.9 0.2M36.2 176.6q2.0 -1.3 4.2 -0.2M78.0 230.2q0.3 2.6 0.4 5.1M57.4 231.9q1.5 1.2 3.0 2.4M49.2 209.6q1.2 2.3 3.5 3.4M53.5 205.8q1.4 -0.0 2.8 0.5M46.7 245.1q-1.4 2.1 -1.4 4.6" stroke="#fbf6fb" stroke-width="2.7" stroke-linecap="round" fill="none"/></g>
<g filter="url(#sb)">
<circle cx="26.8" cy="209.3" r="4.6" fill="#f8eef6"/><circle cx="26.8" cy="209.3" r="3.40" fill="#8a3a80"/><circle cx="28.6" cy="211.3" r="0.8" fill="#6a2a70"/><circle cx="28.7" cy="211.0" r="0.6" fill="#6a2a70"/><circle cx="27.0" cy="208.4" r="0.4" fill="#6a2a70"/><circle cx="24.5" cy="210.3" r="0.4" fill="#6a2a70"/><circle cx="26.5" cy="211.9" r="0.7" fill="#4a1050"/><circle cx="27.2" cy="209.0" r="0.4" fill="#f0e0f0"/><circle cx="29.5" cy="209.5" r="0.7" fill="#6a2a70"/><circle cx="26.5" cy="207.2" r="0.8" fill="#6a2a70"/><circle cx="25.2" cy="208.7" r="0.7" fill="#6a2a70"/><circle cx="29.5" cy="208.5" r="0.6" fill="#f0e0f0"/><circle cx="27.6" cy="208.9" r="0.7" fill="#f0e0f0"/><circle cx="27.4" cy="208.5" r="0.6" fill="#f0e0f0"/><circle cx="28.8" cy="209.0" r="0.9" fill="#f0e0f0"/><circle cx="27.9" cy="207.2" r="0.6" fill="#f0e0f0"/><circle cx="28.8" cy="209.0" r="0.9" fill="#6a2a70"/><circle cx="26.3" cy="209.0" r="0.5" fill="#6a2a70"/>
<circle cx="44" cy="227.3" r="4.8" fill="#f8eef6"/><circle cx="44" cy="227.3" r="3.60" fill="#8a3a80"/><circle cx="46.9" cy="226.5" r="0.4" fill="#4a1050"/><circle cx="43.2" cy="228.3" r="0.8" fill="#6a2a70"/><circle cx="44.0" cy="228.7" r="0.4" fill="#f0e0f0"/><circle cx="45.1" cy="229.0" r="0.6" fill="#f0e0f0"/><circle cx="45.4" cy="225.6" r="0.6" fill="#6a2a70"/><circle cx="41.1" cy="227.3" r="0.8" fill="#6a2a70"/><circle cx="42.3" cy="227.7" r="0.6" fill="#f0e0f0"/><circle cx="44.7" cy="228.4" r="0.5" fill="#4a1050"/><circle cx="43.5" cy="228.3" r="0.7" fill="#f0e0f0"/><circle cx="43.4" cy="226.1" r="0.8" fill="#6a2a70"/><circle cx="43.7" cy="224.4" r="0.8" fill="#f0e0f0"/><circle cx="42.2" cy="229.7" r="0.9" fill="#4a1050"/><circle cx="45.9" cy="226.8" r="0.8" fill="#f0e0f0"/><circle cx="41.9" cy="226.9" r="0.9" fill="#f0e0f0"/><circle cx="41.3" cy="227.0" r="0.7" fill="#6a2a70"/><circle cx="45.7" cy="226.1" r="0.7" fill="#f0e0f0"/><circle cx="43.6" cy="225.2" r="0.5" fill="#6a2a70"/><circle cx="45.1" cy="224.7" r="0.8" fill="#f0e0f0"/>
<circle cx="43.2" cy="186.9" r="4.0" fill="#f8eef6"/><circle cx="43.2" cy="186.9" r="2.80" fill="#9a4a90"/><circle cx="43.3" cy="188.7" r="0.6" fill="#f0e0f0"/><circle cx="41.4" cy="187.2" r="0.7" fill="#6a2a70"/><circle cx="43.1" cy="188.1" r="0.9" fill="#6a2a70"/><circle cx="41.5" cy="186.5" r="0.6" fill="#4a1050"/><circle cx="43.3" cy="187.8" r="0.9" fill="#6a2a70"/><circle cx="43.1" cy="185.0" r="0.4" fill="#f0e0f0"/><circle cx="45.2" cy="187.5" r="0.8" fill="#6a2a70"/><circle cx="41.2" cy="187.2" r="0.8" fill="#f0e0f0"/><circle cx="43.6" cy="185.4" r="0.8" fill="#f0e0f0"/><circle cx="41.0" cy="187.7" r="0.8" fill="#4a1050"/><circle cx="44.8" cy="187.3" r="0.5" fill="#f0e0f0"/><circle cx="41.5" cy="187.6" r="0.6" fill="#f0e0f0"/>
<circle cx="61.9" cy="172" r="4.4" fill="#f8eef6"/><circle cx="61.9" cy="172" r="3.20" fill="#9a4a90"/><circle cx="62.0" cy="172.9" r="0.6" fill="#4a1050"/><circle cx="62.2" cy="172.2" r="0.7" fill="#6a2a70"/><circle cx="62.6" cy="169.7" r="0.5" fill="#f0e0f0"/><circle cx="60.4" cy="173.8" r="0.8" fill="#6a2a70"/><circle cx="62.5" cy="174.6" r="0.8" fill="#6a2a70"/><circle cx="62.3" cy="170.9" r="0.6" fill="#f0e0f0"/><circle cx="63.7" cy="170.0" r="0.8" fill="#6a2a70"/><circle cx="63.7" cy="173.1" r="0.7" fill="#f0e0f0"/><circle cx="61.9" cy="173.4" r="0.5" fill="#f0e0f0"/><circle cx="62.0" cy="171.8" r="0.5" fill="#f0e0f0"/><circle cx="63.8" cy="170.3" r="0.7" fill="#6a2a70"/><circle cx="60.6" cy="172.7" r="0.6" fill="#4a1050"/><circle cx="61.1" cy="174.3" r="0.4" fill="#4a1050"/><circle cx="59.3" cy="172.6" r="0.7" fill="#f0e0f0"/><circle cx="60.3" cy="172.3" r="0.9" fill="#4a1050"/>
<ellipse cx="69" cy="184.5" rx="5.5" ry="1.8" transform="rotate(25 69 184.5)" fill="#fbf6fb"/>
<ellipse cx="30" cy="198" rx="4" ry="1.6" transform="rotate(40 30 198)" fill="#fbf6fb"/>
<ellipse cx="52" cy="200" rx="3.5" ry="1.4" transform="rotate(-30 52 200)" fill="#fbf6fb"/>
<text x="71.8" y="246.5" font-size="6" text-anchor="middle" font-weight="bold" fill="#555" textLength="13.5" lengthAdjust="spacingAndGlyphs">50μm</text><line x1="65" y1="248.5" x2="78.5" y2="248.5" stroke="#555" stroke-width="1"/>
</g>
</g>
<g clip-path="url(#cpSG)">
<rect x="85.7" y="164.8" width="64.4" height="85.3" filter="url(#tpSG)"/>
<g filter="url(#sb)">
<path d="M107.9 193.9L111 197.8L117.2 194.7L123.5 186.9L127.4 179.1L125.8 174.4L122.7 175.9L119.6 182.2L113.3 188.4Z" fill="#f4f0f4"/>
<ellipse cx="145" cy="187" rx="6" ry="3.5" transform="rotate(20 145 187)" fill="#f4f0f4"/>
<ellipse cx="98.5" cy="190" rx="3" ry="3" transform="rotate(0 98.5 190)" fill="#f4f0f4" opacity="0.9"/>
<ellipse cx="130" cy="170" rx="2.5" ry="3" transform="rotate(0 130 170)" fill="#f4f0f4" opacity="0.9"/>
<ellipse cx="137.5" cy="198" rx="4" ry="2.5" transform="rotate(10 137.5 198)" fill="#f4f0f4" opacity="0.9"/>
<ellipse cx="138" cy="211" rx="4" ry="3" transform="rotate(0 138 211)" fill="#f4f0f4" opacity="0.85"/>
<ellipse cx="100.5" cy="203.5" rx="3" ry="6.5" transform="rotate(25 100.5 203.5)" fill="#f4f0f4"/>
<ellipse cx="145.5" cy="186" rx="3" ry="5.5" transform="rotate(30 145.5 186)" fill="#f4f0f4"/>
<ellipse cx="145.8" cy="208.5" rx="3" ry="5" transform="rotate(0 145.8 208.5)" fill="#f4f0f4" opacity="0.9"/>
<ellipse cx="107.7" cy="226" rx="2.5" ry="3.5" transform="rotate(0 107.7 226)" fill="#f4f0f4" opacity="0.9"/>
<ellipse cx="98.5" cy="225.7" rx="4.5" ry="4.5" transform="rotate(0 98.5 225.7)" fill="#f4f0f4" opacity="0.9"/>
<ellipse cx="103.5" cy="234" rx="3" ry="4" transform="rotate(0 103.5 234)" fill="#f4f0f4" opacity="0.8"/>
<ellipse cx="94" cy="242" rx="5" ry="4.5" transform="rotate(0 94 242)" fill="#ece6ee" opacity="0.9"/>
<ellipse cx="109" cy="172" rx="5" ry="3" transform="rotate(0 109 172)" fill="#e0d4e8" opacity="0.8"/>
<ellipse cx="119.5" cy="220.5" rx="12.5" ry="12.8" transform="rotate(0 119.5 220.5)" fill="#efe8f2"/>
<ellipse cx="119" cy="220.5" rx="10" ry="10.2" fill="#cfa8e4" filter="url(#mot)"/>
<path d="M149.5 209.2L144 216L140 221.8M138.5 227L135 232L132.7 236.5M124.3 238.6L118 244.9M149 216L145 221" stroke="#9a34c0" stroke-width="1.9" stroke-linecap="round" fill="none"/>
<text x="141.3" y="245.6" font-size="6" text-anchor="middle" font-weight="bold" fill="#111" textLength="13.6" lengthAdjust="spacingAndGlyphs">50μm</text><line x1="134.5" y1="248.4" x2="148.1" y2="248.4" stroke="#111" stroke-width="1"/>
</g>
</g>
<g clip-path="url(#chSG)">
<rect x="152.9" y="164.8" width="64.9" height="85.3" filter="url(#thSG)"/>
<g filter="url(#sb)"><path d="M161.3 237.6q0.0 1.4 1.1 2.3M156.2 221.4q-0.2 2.5 1.6 4.2M195.6 228.2q0.6 -1.7 2.0 -2.9M154.9 198.1q1.5 -1.1 3.2 -2.0M195.6 236.0q1.5 1.6 3.3 2.9M158.3 224.8q2.4 0.5 4.9 0.3M184.3 224.0q1.0 1.2 1.7 2.6M159.2 227.8q-0.2 1.9 -0.2 3.8M193.9 179.4q2.3 -1.2 4.6 -0.0M166.9 196.0q-0.2 2.0 -1.0 3.9M183.7 186.1q1.0 2.3 0.8 4.8M155.8 201.7q1.6 1.5 2.7 3.3M194.1 187.3q2.0 0.6 3.6 1.8M172.3 174.0q-0.8 2.3 -2.9 3.4M188.9 245.9q1.4 -0.1 2.5 0.8M178.3 215.5q1.4 -0.2 2.5 -1.1M154.1 244.3q-1.7 1.5 -1.3 3.8M159.4 193.1q1.0 1.3 0.9 2.9M160.2 168.0q0.5 1.4 -0.4 2.7M182.7 189.6q0.7 2.3 2.2 4.1M172.8 230.6q-1.6 2.2 -0.8 4.9M208.0 245.0q1.4 -2.1 3.6 -3.4M155.3 164.9q2.6 -0.1 4.5 1.6M166.9 241.1q-1.4 1.5 -1.7 3.5M153.9 178.6q1.8 1.7 1.5 4.2M184.4 236.8q1.9 -0.3 3.8 -0.9M160.1 177.2q-0.3 2.0 -1.7 3.6M187.4 247.8q0.4 2.1 0.6 4.3M165.1 164.7q1.5 1.2 2.3 2.8M205.9 226.0q1.7 -0.2 3.2 -1.2M157.2 199.9q1.7 -0.8 3.5 -0.6M163.5 218.2q1.5 1.7 2.6 3.7M158.7 206.0q-0.3 2.4 1.6 3.9M186.1 220.3q0.5 1.5 2.0 2.1M151.7 239.4q2.3 0.6 3.6 2.6M177.3 240.8q0.8 1.6 2.4 2.3M157.8 170.4q0.8 1.5 1.2 3.2M155.4 232.7q1.6 0.5 3.2 -0.2M161.1 172.8q1.4 1.3 2.9 2.4M199.2 208.5q2.4 0.3 4.3 1.8M155.8 210.4q1.8 1.3 3.7 2.6M164.4 237.8q0.5 2.5 2.8 3.7M178.2 199.8q1.2 0.7 2.0 1.8M206.8 197.1q1.5 0.0 2.8 0.7M178.3 177.4q-1.1 0.9 -1.9 1.9M173.7 216.7q-0.5 1.4 -0.4 2.8M198.9 225.3q1.5 0.1 2.7 -0.7M163.3 229.2q-0.1 1.3 -0.3 2.5M208.5 234.5q1.1 -0.8 2.3 -1.5M215.3 212.9q2.5 0.2 4.5 1.6M214.9 229.5q1.9 0.7 2.6 2.5M163.9 185.9q1.8 0.0 3.5 0.9M212.3 177.5q1.8 -0.1 3.5 -0.6M188.6 232.8q1.5 -1.8 3.7 -2.7M203.0 213.5q1.4 -1.6 1.1 -3.6M171.6 224.8q-2.1 1.8 -1.7 4.5M204.5 179.7q2.4 1.2 4.9 0.2" stroke="#f8f2fa" stroke-width="1.2" stroke-linecap="round" fill="none"/><path d="M175.4 242.7q-0.1 2.3 -1.7 3.9M178.4 192.7q1.0 1.1 0.6 2.5M213.3 165.6q2.3 0.5 4.3 -0.9M151.5 171.9q1.9 -0.9 3.8 0.0M198.8 236.6q1.8 0.8 3.7 0.7M177.6 181.6q-1.3 0.8 -2.0 2.2M203.6 194.2q1.1 -1.5 2.3 -2.8M170.2 208.4q1.1 0.7 2.4 1.2M169.0 177.8q1.5 0.5 2.0 2.0M214.5 212.9q1.3 -2.5 -0.3 -4.8M182.7 209.4q0.9 0.9 1.4 2.1M192.7 184.2q1.7 0.2 2.8 1.4M167.5 215.2q2.0 1.5 3.6 3.4M187.5 238.6q2.6 0.3 3.9 2.7M196.1 209.5q2.4 -0.5 3.7 -2.5M209.2 208.4q1.3 -0.6 2.7 -0.8M179.9 247.1q0.7 1.2 1.5 2.3M173.8 227.1q0.5 1.6 1.3 3.1M160.3 189.3q0.7 1.2 2.0 1.7M210.8 196.6q2.0 0.8 4.1 1.6M152.0 222.4q2.0 0.3 3.4 -1.1M174.4 220.3q2.1 1.0 4.3 2.0M201.2 168.3q0.8 1.5 2.1 2.7M172.2 170.2q0.6 1.4 1.6 2.7M173.3 187.0q-0.6 2.1 -1.1 4.2M212.7 218.3q1.9 -1.7 4.0 -2.9M197.7 192.4q0.8 1.3 2.4 1.3M210.8 245.6q0.9 1.3 2.2 2.3M208.9 213.9q1.4 0.4 2.7 -0.3M196.9 246.9q1.9 1.0 3.9 1.9M190.8 174.6q0.3 2.0 1.9 3.2M194.9 220.5q2.3 0.3 3.8 2.1M168.4 168.5q1.7 0.8 2.3 2.5M161.3 247.5q0.2 2.1 0.1 4.1M181.9 205.5q0.2 1.5 0.1 3.0M181.9 172.3q1.2 0.4 2.3 1.2M162.9 227.1q1.7 -1.2 3.6 -0.4M184.4 165.3q-0.9 2.7 -3.6 3.4M198.1 218.3q2.4 -0.5 4.9 -0.1M206.2 240.3q1.2 -0.7 2.5 -1.2M171.5 213.2q1.5 0.4 3.0 0.2M190.3 212.5q1.2 -0.9 1.7 -2.4M213.9 172.3q1.0 1.4 2.6 2.1M210.4 183.7q1.7 -0.3 3.1 -1.3M212.1 241.2q2.7 -0.9 3.2 -3.7M171.0 222.9q1.4 0.1 2.8 0.3M199.0 186.1q1.2 0.8 1.3 2.2M200.8 232.0q1.2 -1.5 1.4 -3.4M176.4 229.1q0.6 2.2 -0.3 4.3M163.9 190.4q1.4 1.8 2.6 3.7M204.5 208.8q1.8 -1.6 4.0 -2.4M202.8 223.1q1.6 -1.3 3.0 -2.8M161.0 214.5q1.7 -0.8 3.6 -1.3M216.8 197.3q0.1 -2.3 1.9 -3.7M190.3 191.6q1.2 2.1 3.3 3.2M215.8 183.4q1.0 2.2 3.4 2.8" stroke="#f8f2fa" stroke-width="1.5" stroke-linecap="round" fill="none"/><path d="M214.4 202.3q-0.4 -1.5 0.4 -2.9M186.5 181.4q1.2 0.8 2.6 0.7M190.9 177.6q0.6 2.2 -0.8 3.9M181.9 216.1q1.8 -0.8 3.4 -1.8M187.2 207.8q1.9 1.1 2.1 3.2M196.4 203.6q1.8 -1.1 3.7 -0.2M153.2 184.8q1.2 1.7 3.3 1.6M192.5 238.7q0.9 1.0 2.0 1.7M172.7 177.9q0.9 1.8 2.5 2.9M158.1 245.5q-0.9 2.6 0.7 4.9M198.6 183.1q1.7 -1.4 3.8 -0.6M180.7 182.1q-1.1 2.0 -0.8 4.2M187.8 165.4q2.1 0.1 4.2 0.3M184.1 168.0q1.1 2.0 2.0 4.1M201.3 246.9q1.1 1.3 2.8 1.1M216.0 165.8q0.9 2.3 3.3 2.7M173.6 234.0q-0.7 2.3 -0.6 4.7M154.2 248.9q0.5 1.4 1.8 2.2M192.5 171.1q2.2 1.3 3.4 3.6M172.9 202.2q0.2 1.6 0.6 3.2M169.9 202.0q-0.1 1.3 -0.4 2.6M172.3 164.2q0.0 1.5 -0.9 2.6M216.3 210.3q0.3 -2.3 0.4 -4.6M177.2 231.1q2.2 0.0 4.3 0.2M151.7 189.8q2.4 0.4 4.0 -1.4M169.8 210.7q0.6 1.5 0.5 3.1M201.7 198.5q2.2 -1.3 2.2 -3.8M180.4 234.3q1.8 -0.7 3.6 -0.1M171.2 247.9q-0.6 1.4 -2.0 2.0M158.3 186.1q-0.2 1.5 0.5 2.8M196.5 213.2q0.3 -2.1 0.8 -4.1M153.2 214.8q1.8 -1.5 2.8 -3.6M157.4 240.8q-0.2 1.4 0.3 2.8M188.5 221.5q1.8 -1.2 2.5 -3.3M159.2 181.9q0.3 1.4 -0.4 2.6M194.8 214.6q0.8 1.3 2.3 1.5M196.1 243.0q2.5 0.4 4.1 2.5M165.3 230.8q1.6 0.8 2.9 2.0M201.9 204.1q2.3 -0.1 4.4 -1.2M179.3 167.3q0.8 1.6 0.7 3.3M174.1 196.9q1.8 1.0 3.5 2.1M214.3 179.4q1.9 1.6 2.6 4.0M159.0 216.0q0.1 2.0 1.0 3.8M200.6 242.3q0.9 -1.5 2.4 -2.3M163.0 164.4q-1.8 1.5 -3.6 2.9M174.2 188.5q2.4 -0.3 4.6 0.5M186.9 225.6q1.2 0.6 2.4 1.1M154.4 228.9q1.8 -0.5 3.3 0.5M162.6 222.1q1.2 0.8 1.6 2.1M163.8 179.8q-0.5 1.4 0.4 2.7M163.6 234.2q2.3 0.4 4.5 1.0M183.3 217.7q1.8 0.5 3.4 1.6M160.2 210.7q2.7 0.0 4.3 -2.2M157.6 235.7q0.2 2.0 -0.1 4.0M180.4 218.2q1.9 0.8 3.2 2.4M184.4 177.5q0.4 1.5 1.2 2.7M202.3 180.9q1.1 -1.3 2.9 -1.3" stroke="#f8f2fa" stroke-width="1.8" stroke-linecap="round" fill="none"/></g>
<g filter="url(#sb)">
<ellipse cx="206.2" cy="186.4" rx="5" ry="5" transform="rotate(0 206.2 186.4)" fill="#f6f0fa"/>
<ellipse cx="206.2" cy="186.4" rx="3.8" ry="3.6" fill="#9a6ad0" filter="url(#mot)"/>
<ellipse cx="163.3" cy="202.3" rx="4.6" ry="4.4" transform="rotate(0 163.3 202.3)" fill="#f6f0fa"/>
<ellipse cx="163.3" cy="202.3" rx="3.4" ry="3.4" fill="#8050c0" filter="url(#mot)"/>
<path d="M180 195L194 194L192 202L188 208L182 203Z" fill="#f6f0fa"/>
<path d="M182.5 197L191.5 196.5L189.8 202L187.5 205L184 202Z" fill="#8a58c8" filter="url(#mot)"/>
<ellipse cx="214.9" cy="224.5" rx="4.5" ry="5" transform="rotate(0 214.9 224.5)" fill="#f6f0fa"/>
<ellipse cx="215.5" cy="224.5" rx="3" ry="3.5" fill="#9a6ad0" filter="url(#mot)"/>
<ellipse cx="160.5" cy="176" rx="4.5" ry="1.8" transform="rotate(-55 160.5 176)" fill="#f6f0fa"/>
<ellipse cx="188.5" cy="213.5" rx="5" ry="2.4" transform="rotate(0 188.5 213.5)" fill="#f6f0fa"/>
<rect x="199.6" y="240.4" width="14.0" height="6.4" fill="#f4eef8" opacity="0.7"/><text class="nb" x="207.0" y="245.4" font-size="6" text-anchor="middle" font-weight="bold" fill="#151020" textLength="13.0" lengthAdjust="spacingAndGlyphs">100μm</text><path d="M199.6 241V246.6H213.6" stroke="#151020" stroke-width="0.9" fill="none"/>
</g>
</g>
<g clip-path="url(#cmCG)">
<rect x="18.5" y="252.9" width="64.8" height="85.5" filter="url(#tmCG)"/>
<g filter="url(#sb)">
<ellipse cx="69.4" cy="265" rx="7.8" ry="9.2" transform="rotate(15 69.4 265)" fill="#faf6fa"/>
<ellipse cx="69.4" cy="265.5" rx="4.2" ry="5.5" fill="#b8b8e0" filter="url(#mot)"/>
<ellipse cx="60.8" cy="273.7" rx="5.2" ry="6.2" transform="rotate(-20 60.8 273.7)" fill="#faf6fa"/>
<ellipse cx="61" cy="274" rx="3" ry="3.8" fill="#b0b0e0" filter="url(#mot)"/>
<ellipse cx="22" cy="264.5" rx="3.5" ry="4" transform="rotate(0 22 264.5)" fill="#f4eef4" opacity="0.9"/>
<ellipse cx="42.5" cy="254.5" rx="3.5" ry="2" transform="rotate(0 42.5 254.5)" fill="#f4eef4" opacity="0.9"/>
<ellipse cx="81" cy="289" rx="2.5" ry="4.5" transform="rotate(0 81 289)" fill="#f0e8f0" opacity="0.9"/>
<ellipse cx="60.4" cy="308.3" rx="2.6" ry="2.6" transform="rotate(0 60.4 308.3)" fill="#f6f0f6"/>
<ellipse cx="60.4" cy="308.3" rx="1.3" ry="1.3" transform="rotate(0 60.4 308.3)" fill="#b03a78"/>
<text x="71.8" y="334.5" font-size="6" text-anchor="middle" font-weight="bold" fill="#555" textLength="13.5" lengthAdjust="spacingAndGlyphs">50μm</text><line x1="65" y1="336.5" x2="78.5" y2="336.5" stroke="#555" stroke-width="1"/>
</g>
</g>
<g clip-path="url(#cmCG)"><g filter="url(#bb)" style="mix-blend-mode:normal"><ellipse cx="26" cy="262" rx="9" ry="10" transform="rotate(0 26 262)" fill="#c8246a" opacity="0.7"/><ellipse cx="79" cy="292" rx="7" ry="13" transform="rotate(0 79 292)" fill="#c8246a" opacity="0.7"/><ellipse cx="56" cy="288" rx="10" ry="8" transform="rotate(0 56 288)" fill="#c8246a" opacity="0.6"/><ellipse cx="24" cy="326" rx="7" ry="11" transform="rotate(0 24 326)" fill="#c8246a" opacity="0.55"/><ellipse cx="52" cy="333" rx="8" ry="6" transform="rotate(0 52 333)" fill="#c8246a" opacity="0.5"/><ellipse cx="45" cy="257" rx="6" ry="4" transform="rotate(0 45 257)" fill="#c8246a" opacity="0.55"/><ellipse cx="35" cy="282" rx="7" ry="15" transform="rotate(30 35 282)" fill="#4a4098" opacity="0.55"/><ellipse cx="60" cy="313" rx="9" ry="6" transform="rotate(0 60 313)" fill="#4a4098" opacity="0.5"/><ellipse cx="22" cy="303" rx="4" ry="6" transform="rotate(0 22 303)" fill="#4a4098" opacity="0.45"/></g></g>
<g clip-path="url(#cpCG)">
<rect x="85.7" y="252.9" width="64.4" height="85.5" filter="url(#tpCG)"/>
<g filter="url(#sb)">
<ellipse cx="114" cy="264" rx="4.5" ry="6" transform="rotate(10 114 264)" fill="#f4f0f4"/>
<ellipse cx="115.5" cy="278.7" rx="4.5" ry="5" transform="rotate(-10 115.5 278.7)" fill="#f4f0f4"/>
<ellipse cx="143.5" cy="255" rx="6.5" ry="3" transform="rotate(0 143.5 255)" fill="#f4f0f4" opacity="0.9"/>
<ellipse cx="134.8" cy="272.5" rx="9" ry="9.4" transform="rotate(0 134.8 272.5)" fill="#ece4f2"/>
<ellipse cx="135" cy="272" rx="7.2" ry="7.6" fill="#9664cc" filter="url(#mot)"/>
<ellipse cx="105.3" cy="320.4" rx="11" ry="11.6" transform="rotate(-10 105.3 320.4)" fill="#eee6f2"/>
<ellipse cx="105" cy="320.5" rx="9" ry="10" fill="#8c56c6" filter="url(#mot)"/>
<ellipse cx="136" cy="299" rx="4.5" ry="3.8" transform="rotate(0 136 299)" fill="#f4f0f4" opacity="0.9"/>
<ellipse cx="125" cy="317" rx="3" ry="3" transform="rotate(0 125 317)" fill="#f4f0f4" opacity="0.9"/>
<ellipse cx="148" cy="326" rx="3" ry="5" transform="rotate(0 148 326)" fill="#f4f0f4" opacity="0.9"/>
<text x="141.3" y="333.6" font-size="6" text-anchor="middle" font-weight="bold" fill="#111" textLength="13.6" lengthAdjust="spacingAndGlyphs">50μm</text><line x1="134.5" y1="336.4" x2="148.1" y2="336.4" stroke="#111" stroke-width="1"/>
</g>
</g>
<g clip-path="url(#chCG)">
<rect x="152.9" y="252.9" width="64.9" height="85.5" filter="url(#thCG)"/>
<g filter="url(#sb)">
<ellipse cx="183.2" cy="266.5" rx="6.5" ry="6.2" transform="rotate(0 183.2 266.5)" fill="#f6f0fa"/>
<ellipse cx="183.2" cy="266.5" rx="5.2" ry="4.8" fill="#9a62cc" filter="url(#mot)"/>
<circle cx="185.8" cy="269.2" r="0.7" fill="#f4eef8"/><circle cx="183.4" cy="264.5" r="0.7" fill="#f4eef8"/><circle cx="180.4" cy="266.6" r="0.7" fill="#f4eef8"/><circle cx="181.0" cy="263.7" r="0.7" fill="#f4eef8"/><circle cx="183.8" cy="266.9" r="0.7" fill="#f4eef8"/><circle cx="184.6" cy="264.3" r="0.7" fill="#f4eef8"/><circle cx="183.2" cy="266.3" r="0.7" fill="#f4eef8"/>
<ellipse cx="211.7" cy="256.2" rx="5.5" ry="5" transform="rotate(0 211.7 256.2)" fill="#f6f0fa"/>
<ellipse cx="212" cy="256.2" rx="4" ry="3.6" fill="#8a56c4" filter="url(#mot)"/>
<circle cx="215.2" cy="255.4" r="0.7" fill="#f4eef8"/><circle cx="212.9" cy="256.5" r="0.7" fill="#f4eef8"/><circle cx="213.5" cy="253.9" r="0.7" fill="#f4eef8"/>
<ellipse cx="187" cy="296.5" rx="6.8" ry="6" transform="rotate(0 187 296.5)" fill="#f6f0fa"/>
<ellipse cx="187" cy="296.5" rx="5.2" ry="4.6" fill="#9a62cc" filter="url(#mot)"/>
<circle cx="187.2" cy="299.3" r="0.7" fill="#f4eef8"/><circle cx="184.7" cy="298.6" r="0.7" fill="#f4eef8"/><circle cx="186.2" cy="295.8" r="0.7" fill="#f4eef8"/><circle cx="190.9" cy="296.8" r="0.7" fill="#f4eef8"/><circle cx="186.9" cy="298.3" r="0.7" fill="#f4eef8"/><circle cx="189.9" cy="296.4" r="0.7" fill="#f4eef8"/><circle cx="188.5" cy="294.3" r="0.7" fill="#f4eef8"/>
<ellipse cx="173.2" cy="275.2" rx="2.5" ry="4.8" transform="rotate(0 173.2 275.2)" fill="#f6f0fa"/>
<ellipse cx="198.6" cy="272.8" rx="2.5" ry="2.6" transform="rotate(0 198.6 272.8)" fill="#f6f0fa"/>
<ellipse cx="200.6" cy="283.2" rx="3.2" ry="3.2" transform="rotate(0 200.6 283.2)" fill="#f6f0fa"/>
<ellipse cx="161" cy="270.5" rx="3.2" ry="3.2" transform="rotate(0 161 270.5)" fill="#f6f0fa"/>
<ellipse cx="207" cy="302.2" rx="3.2" ry="4" transform="rotate(0 207 302.2)" fill="#f6f0fa"/>
<ellipse cx="172" cy="322.8" rx="3.2" ry="2.6" transform="rotate(0 172 322.8)" fill="#f6f0fa"/>
<ellipse cx="167" cy="310" rx="2.5" ry="3.5" transform="rotate(0 167 310)" fill="#f6f0fa"/>
<ellipse cx="195" cy="315" rx="2.2" ry="3" transform="rotate(0 195 315)" fill="#f6f0fa"/>
<rect x="199.9" y="330.0" width="14.699999999999989" height="6.4" fill="#f4eef8" opacity="0.7"/><text class="nb" x="207.7" y="335.0" font-size="6" text-anchor="middle" font-weight="bold" fill="#151020" textLength="13.7" lengthAdjust="spacingAndGlyphs">100μm</text><path d="M199.9 330.6V336.20000000000005H214.6" stroke="#151020" stroke-width="0.9" fill="none"/>
</g>
</g>
<g clip-path="url(#cmIG)">
<rect x="18.5" y="341.2" width="64.8" height="86" filter="url(#tmIG)"/>
<g filter="url(#sb)"><ellipse cx="74" cy="380" rx="10" ry="40" transform="rotate(0 74 380)" fill="#c8a0d8" opacity="0.25"/><path d="M65.4 368.0q-0.3 4.5 -4.8 4.3M23.9 376.1q1.5 1.9 3.8 3.0M32.6 367.9q1.1 3.3 4.5 4.3M76.4 408.0q1.4 2.1 2.8 4.2M35.2 417.9q2.3 4.5 0.7 9.3M80.5 385.8q-1.9 4.9 2.9 7.2M56.4 368.0q-0.7 3.1 -0.5 6.2M36.4 405.4q-1.2 4.0 -0.7 8.1M25.6 366.2q-0.4 4.3 -3.6 7.3M79.1 370.6q0.2 2.1 -0.0 4.2M76.2 361.2q-4.0 -0.5 -6.1 3.0M46.6 397.3q-1.2 4.2 -3.4 8.1M32.5 375.6q3.2 -0.0 6.2 1.2M31.8 357.4q-2.4 1.4 -4.7 3.0M73.0 341.8q3.5 -0.1 5.0 3.0M41.4 374.1q3.5 1.8 4.4 5.5M61.2 378.5q-3.4 1.1 -3.8 4.7" stroke="#faf4fa" stroke-width="2.0" stroke-linecap="round" fill="none"/><path d="M48.6 393.8q4.5 3.3 1.3 7.9M46.8 413.3q0.9 2.6 3.0 4.5M71.8 395.5q0.3 2.7 -0.3 5.3M17.4 410.3q3.8 0.0 5.8 3.2M56.1 404.0q2.7 1.2 3.5 4.0M56.4 346.2q3.1 -1.9 6.7 -1.0M41.5 353.3q4.8 3.6 1.3 8.4M54.1 423.6q6.6 -2.0 9.0 4.4M36.6 347.0q0.1 4.4 0.0 8.7M17.5 388.7q3.1 -1.1 5.5 1.0M61.1 354.4q2.3 -1.6 4.2 0.4M51.7 406.3q2.2 2.4 2.8 5.6M53.3 398.3q0.5 3.2 -0.3 6.4M67.1 397.8q-3.2 4.6 -1.1 9.8M73.4 391.3q0.9 2.1 2.0 4.1M25.0 339.4q-0.1 2.4 -0.3 4.8M40.1 343.5q4.8 2.4 5.5 7.8M76.2 407.1q3.6 -4.2 9.1 -3.5M83.6 351.3q0.4 2.9 -2.2 4.2M69.1 405.7q2.5 2.8 5.9 1.3M43.3 414.8q-0.1 5.2 -5.2 5.8M56.9 362.6q-0.1 3.9 3.7 4.7" stroke="#faf4fa" stroke-width="2.8" stroke-linecap="round" fill="none"/><path d="M40.0 369.2q3.1 -0.2 4.7 2.4M80.3 414.0q4.3 2.1 3.0 6.7M44.9 389.1q3.9 2.7 1.5 6.7M24.2 353.4q-4.2 4.0 -0.8 8.7M63.3 412.1q0.6 2.7 0.8 5.4M62.4 357.4q1.0 2.9 3.6 4.4M36.8 383.3q1.6 2.0 1.8 4.5M48.0 371.7q3.2 -1.0 5.7 1.1M24.1 382.7q3.3 0.5 6.2 2.1M72.1 418.5q3.0 0.7 5.9 -0.2M33.9 406.7q-4.8 2.6 -5.2 8.0M59.3 422.5q4.1 0.2 7.9 1.9M20.8 361.1q-2.1 1.1 -3.5 3.1M21.3 404.9q3.9 0.0 7.8 -0.7M21.3 390.6q0.8 4.7 3.6 8.6M63.1 372.4q0.6 4.6 -3.9 5.9" stroke="#faf4fa" stroke-width="3.4" stroke-linecap="round" fill="none"/></g>
<g filter="url(#sb)">
<path d="M44 353 Q50 350 55 357 Q58 364 57 370 Q53 369 49.5 364 Q46 359 44 353Z" fill="#faf4fa"/>
<ellipse cx="23" cy="347" rx="5" ry="7" transform="rotate(0 23 347)" fill="#faf4fa" opacity="0.95"/>
<ellipse cx="34" cy="343" rx="5.5" ry="2.5" transform="rotate(0 34 343)" fill="#faf4fa" opacity="0.9"/>
<ellipse cx="56" cy="400" rx="3" ry="3" transform="rotate(0 56 400)" fill="#f8f0f8"/>
<ellipse cx="56" cy="400" rx="1.2" ry="1.2" transform="rotate(0 56 400)" fill="#8a3a90"/>
<ellipse cx="72" cy="352" rx="2" ry="6" transform="rotate(20 72 352)" fill="#f4e8f4" opacity="0.9"/>
<ellipse cx="78" cy="362" rx="1.8" ry="5" transform="rotate(30 78 362)" fill="#f4e8f4" opacity="0.9"/>
<ellipse cx="43.5" cy="389" rx="5" ry="13" transform="rotate(-15 43.5 389)" fill="#faf4fa"/>
<ellipse cx="43.5" cy="389" rx="3.4" ry="11" transform="rotate(-15 43.5 389)" fill="#c07cc0"/>
<ellipse cx="24.5" cy="376" rx="3.5" ry="3.5" transform="rotate(0 24.5 376)" fill="#faf4fa"/>
<ellipse cx="24.5" cy="376" rx="1.6" ry="1.6" transform="rotate(0 24.5 376)" fill="#8a3a90"/>
<ellipse cx="54" cy="382.5" rx="4" ry="4" transform="rotate(0 54 382.5)" fill="#faf4fa"/>
<ellipse cx="54" cy="382.5" rx="2" ry="2" transform="rotate(0 54 382.5)" fill="#8a3a90"/>
<ellipse cx="69" cy="395.5" rx="4.5" ry="5.5" transform="rotate(0 69 395.5)" fill="#faf4fa" opacity="0.9"/>
<text x="71.8" y="422.5" font-size="6" text-anchor="middle" font-weight="bold" fill="#555" textLength="13.5" lengthAdjust="spacingAndGlyphs">50μm</text><line x1="65" y1="424.5" x2="78.5" y2="424.5" stroke="#555" stroke-width="1"/>
</g>
</g>
<g clip-path="url(#cpIG)">
<rect x="85.7" y="341.2" width="64.4" height="86" filter="url(#tpIG)"/>
<g filter="url(#sb)">
<ellipse cx="126" cy="361" rx="16" ry="5.2" transform="rotate(42 126 361)" fill="#f4f0f4"/>
<ellipse cx="93" cy="345.5" rx="7" ry="5" transform="rotate(0 93 345.5)" fill="#f4f0f4" opacity="0.95"/>
<ellipse cx="88.5" cy="360" rx="2.6" ry="6" transform="rotate(0 88.5 360)" fill="#f4f0f4" opacity="0.9"/>
<ellipse cx="108" cy="342.5" rx="9" ry="2.2" transform="rotate(0 108 342.5)" fill="#f4f0f4" opacity="0.9"/>
<ellipse cx="148" cy="378" rx="2.5" ry="4" transform="rotate(0 148 378)" fill="#f4f0f4" opacity="0.9"/>
<ellipse cx="143.5" cy="377.5" rx="3" ry="3.5" transform="rotate(0 143.5 377.5)" fill="#6a40a8" opacity="0.55"/>
<ellipse cx="123" cy="390.5" rx="18.6" ry="19.2" fill="#efe8f4" stroke="#8a58bc" stroke-width="1.2"/>
<ellipse cx="123.6" cy="389.8" rx="14.6" ry="14.4" fill="#b08ad8" filter="url(#mot)"/>
<circle cx="116.3" cy="382.6" r="0.9" fill="#f4eef8"/><circle cx="126.8" cy="378.7" r="0.9" fill="#f4eef8"/><circle cx="122.9" cy="378.4" r="0.9" fill="#f4eef8"/><circle cx="131.6" cy="391.3" r="0.9" fill="#f4eef8"/><circle cx="132.6" cy="386.5" r="0.9" fill="#f4eef8"/><circle cx="126.9" cy="387.5" r="0.9" fill="#f4eef8"/><circle cx="117.8" cy="390.9" r="0.9" fill="#f4eef8"/><circle cx="114.9" cy="387.4" r="0.9" fill="#f4eef8"/><circle cx="129.1" cy="390.3" r="0.9" fill="#f4eef8"/><circle cx="121.5" cy="401.0" r="0.9" fill="#f4eef8"/><circle cx="124.1" cy="385.1" r="0.9" fill="#f4eef8"/><circle cx="124.9" cy="385.6" r="0.9" fill="#f4eef8"/><circle cx="120.5" cy="387.0" r="0.9" fill="#f4eef8"/><circle cx="134.7" cy="389.9" r="0.9" fill="#f4eef8"/>
<ellipse cx="95" cy="420" rx="6" ry="4" transform="rotate(0 95 420)" fill="#ece4f0" opacity="0.8"/>
<ellipse cx="92" cy="398" rx="4" ry="6" transform="rotate(0 92 398)" fill="#ece4f0" opacity="0.8"/>
<text x="141.3" y="422.6" font-size="6" text-anchor="middle" font-weight="bold" fill="#111" textLength="13.6" lengthAdjust="spacingAndGlyphs">50μm</text><line x1="134.5" y1="425.4" x2="148.1" y2="425.4" stroke="#111" stroke-width="1"/>
</g>
</g>
<g clip-path="url(#chIG)">
<rect x="152.9" y="341.2" width="64.9" height="86" filter="url(#thIG)"/>
<g filter="url(#sb)"><ellipse cx="164" cy="356" rx="14" ry="16" transform="rotate(0 164 356)" fill="#c088d0" opacity="0.5"/></g>
<g filter="url(#sb)">
<ellipse cx="188.8" cy="357.7" rx="5.5" ry="4" transform="rotate(0 188.8 357.7)" fill="#fbf8fd"/>
<ellipse cx="197.8" cy="370.3" rx="6" ry="5.5" transform="rotate(0 197.8 370.3)" fill="#fbf8fd"/>
<ellipse cx="186" cy="378" rx="4.5" ry="6" transform="rotate(0 186 378)" fill="#fbf8fd"/>
<ellipse cx="209.3" cy="374.8" rx="4.7" ry="3.5" transform="rotate(0 209.3 374.8)" fill="#fbf8fd"/>
<ellipse cx="209.3" cy="363.2" rx="2.4" ry="3.2" transform="rotate(0 209.3 363.2)" fill="#fbf8fd"/>
<ellipse cx="182.3" cy="365.2" rx="2.4" ry="3.6" transform="rotate(0 182.3 365.2)" fill="#fbf8fd"/>
<ellipse cx="203" cy="356.1" rx="2.4" ry="2.4" transform="rotate(0 203 356.1)" fill="#fbf8fd"/>
<ellipse cx="156" cy="343.4" rx="3.5" ry="2.6" transform="rotate(0 156 343.4)" fill="#fbf8fd"/>
<ellipse cx="157" cy="358.5" rx="2.4" ry="3.2" transform="rotate(0 157 358.5)" fill="#fbf8fd"/>
<ellipse cx="203.7" cy="395" rx="8" ry="6.5" transform="rotate(0 203.7 395)" fill="#fbf8fd"/>
<ellipse cx="209" cy="410" rx="9" ry="7" transform="rotate(0 209 410)" fill="#fbf8fd"/>
<ellipse cx="157" cy="388.5" rx="4" ry="5" transform="rotate(0 157 388.5)" fill="#fbf8fd"/>
<ellipse cx="163" cy="400" rx="5.5" ry="4" transform="rotate(0 163 400)" fill="#fbf8fd"/>
<ellipse cx="175.2" cy="400" rx="3.2" ry="2.4" transform="rotate(0 175.2 400)" fill="#fbf8fd"/>
<ellipse cx="168" cy="410" rx="5.5" ry="4" transform="rotate(0 168 410)" fill="#fbf8fd"/>
<ellipse cx="161" cy="417" rx="4.5" ry="4.5" transform="rotate(0 161 417)" fill="#fbf8fd"/>
<ellipse cx="176" cy="417.3" rx="4" ry="3.2" transform="rotate(0 176 417.3)" fill="#fbf8fd"/>
<ellipse cx="182.3" cy="407" rx="4" ry="4" transform="rotate(0 182.3 407)" fill="#fbf8fd"/>
<ellipse cx="192.6" cy="403.8" rx="3.2" ry="4" transform="rotate(0 192.6 403.8)" fill="#fbf8fd"/>
<ellipse cx="189.5" cy="421.3" rx="3.2" ry="4" transform="rotate(0 189.5 421.3)" fill="#fbf8fd"/>
<ellipse cx="168" cy="423" rx="4" ry="3.5" transform="rotate(0 168 423)" fill="#fbf8fd"/>
<ellipse cx="214" cy="386" rx="3" ry="4" transform="rotate(0 214 386)" fill="#fbf8fd"/>
<ellipse cx="176" cy="346" rx="3" ry="2.5" transform="rotate(0 176 346)" fill="#fbf8fd"/>
<ellipse cx="214" cy="346" rx="3" ry="3.5" transform="rotate(0 214 346)" fill="#fbf8fd"/>
<ellipse cx="169.6" cy="359" rx="6.5" ry="7.5" transform="rotate(0 169.6 359)" fill="#e8cce8"/>
<ellipse cx="187.8" cy="394" rx="3.2" ry="7" transform="rotate(0 187.8 394)" fill="#e0d4f0" opacity="0.9"/>
<ellipse cx="174.5" cy="389" rx="7.2" ry="8" transform="rotate(0 174.5 389)" fill="#e6dcf4"/>
<ellipse cx="174.5" cy="389" rx="5.6" ry="6.2" fill="#9c80dc" filter="url(#mot)"/>
<circle cx="175.2" cy="393.9" r="0.7" fill="#f4eef8"/><circle cx="177.2" cy="392.1" r="0.7" fill="#f4eef8"/><circle cx="176.5" cy="390.3" r="0.7" fill="#f4eef8"/><circle cx="176.6" cy="389.0" r="0.7" fill="#f4eef8"/><circle cx="172.5" cy="386.3" r="0.7" fill="#f4eef8"/><circle cx="171.4" cy="390.0" r="0.7" fill="#f4eef8"/>
<rect x="199.9" y="419.0" width="15.299999999999983" height="6.4" fill="#f4eef8" opacity="0.7"/><text class="nb" x="208.0" y="424.0" font-size="6" text-anchor="middle" font-weight="bold" fill="#151020" textLength="14.3" lengthAdjust="spacingAndGlyphs">100μm</text><path d="M199.9 419.6V425.20000000000005H215.2" stroke="#151020" stroke-width="0.9" fill="none"/>
</g>
</g>
<defs><filter id="tmSG" filterUnits="userSpaceOnUse" x="18.5" y="164.8" width="64.8" height="85.3" color-interpolation-filters="sRGB"><feTurbulence type="fractalNoise" baseFrequency="0.08" numOctaves="2" seed="3" result="n1"/><feColorMatrix in="n1" type="matrix" values="0.707 0 0 0 0.160 0.328 0 0 0 -0.011 0.466 0 0 0 0.155 0 0 0 0 1" result="col"/><feTurbulence type="fractalNoise" baseFrequency="0.2 0.26" numOctaves="2" seed="10" result="q0"/><feColorMatrix in="q0" type="matrix" values="0 0 0 0 0.235 0 0 0 0 0.047 0 0 0 0 0.220 5 0 0 0 -3.300" result="L0"/><feTurbulence type="fractalNoise" baseFrequency="0.45" numOctaves="1" seed="17" result="q1"/><feColorMatrix in="q1" type="matrix" values="0 0 0 0 0.235 0 0 0 0 0.047 0 0 0 0 0.220 5 0 0 0 -3.300" result="L1"/><feTurbulence type="fractalNoise" baseFrequency="0.25" numOctaves="2" seed="24" result="q2"/><feColorMatrix in="q2" type="matrix" values="0 0 0 0 0.984 0 0 0 0 0.961 0 0 0 0 0.984 8 0 0 0 -4.800" result="L2"/><feMerge result="m"><feMergeNode in="col"/><feMergeNode in="L0"/><feMergeNode in="L1"/><feMergeNode in="L2"/></feMerge><feGaussianBlur in="m" stdDeviation="0.35"/></filter><filter id="tpSG" filterUnits="userSpaceOnUse" x="85.7" y="164.8" width="64.4" height="85.3" color-interpolation-filters="sRGB"><feTurbulence type="fractalNoise" baseFrequency="0.14" numOctaves="3" seed="21" result="n1"/><feColorMatrix in="n1" type="matrix" values="0.483 0 0 0 0.496 0.535 0 0 0 0.411 0.362 0 0 0 0.623 0 0 0 0 1" result="col"/><feTurbulence type="fractalNoise" baseFrequency="0.4" numOctaves="1" seed="28" result="q0"/><feColorMatrix in="q0" type="matrix" values="0 0 0 0 0.478 0 0 0 0 0.345 0 0 0 0 0.643 5 0 0 0 -3.300" result="L0"/><feTurbulence type="fractalNoise" baseFrequency="0.22" numOctaves="2" seed="35" result="q1"/><feColorMatrix in="q1" type="matrix" values="0 0 0 0 0.941 0 0 0 0 0.918 0 0 0 0 0.957 1 0 0 0 0" result="r1"/><feComponentTransfer in="r1" result="L1"><feFuncA type="table" tableValues="0 0 0 0 0 0 0 0 0.8 0.8 0 0 0 0 0 0 0 0 0 0"/></feComponentTransfer><feTurbulence type="fractalNoise" baseFrequency="0.12" numOctaves="2" seed="42" result="q2"/><feColorMatrix in="q2" type="matrix" values="0 0 0 0 0.984 0 0 0 0 0.973 0 0 0 0 0.984 7 0 0 0 -4.760" result="L2"/><feMerge result="m"><feMergeNode in="col"/><feMergeNode in="L0"/><feMergeNode in="L1"/><feMergeNode in="L2"/></feMerge><feGaussianBlur in="m" stdDeviation="0.35"/></filter><filter id="thSG" filterUnits="userSpaceOnUse" x="152.9" y="164.8" width="64.9" height="85.3" color-interpolation-filters="sRGB"><feTurbulence type="fractalNoise" baseFrequency="0.14" numOctaves="3" seed="31" result="n1"/><feColorMatrix in="n1" type="matrix" values="0.569 0 0 0 0.511 0.794 0 0 0 0.144 0.345 0 0 0 0.651 0 0 0 0 1" result="col"/><feTurbulence type="fractalNoise" baseFrequency="0.45" numOctaves="1" seed="38" result="q0"/><feColorMatrix in="q0" type="matrix" values="0 0 0 0 0.439 0 0 0 0 0.220 0 0 0 0 0.659 5 0 0 0 -3.300" result="L0"/><feTurbulence type="fractalNoise" baseFrequency="0.16 0.24" numOctaves="2" seed="45" result="q1"/><feColorMatrix in="q1" type="matrix" values="0 0 0 0 0.973 0 0 0 0 0.941 0 0 0 0 0.980 1 0 0 0 0" result="r1"/><feComponentTransfer in="r1" result="L1"><feFuncA type="table" tableValues="0 0 0 0 0 0 0 0 0.8 0.8 0 0 0 0 0 0 0 0 0 0"/></feComponentTransfer><feTurbulence type="fractalNoise" baseFrequency="0.22 0.4" numOctaves="2" seed="52" result="q2"/><feColorMatrix in="q2" type="matrix" values="0 0 0 0 0.980 0 0 0 0 0.957 0 0 0 0 0.988 9 0 0 0 -5.760" result="L2"/><feMerge result="m"><feMergeNode in="col"/><feMergeNode in="L0"/><feMergeNode in="L1"/><feMergeNode in="L2"/></feMerge><feGaussianBlur in="m" stdDeviation="0.35"/></filter><filter id="tmCG" filterUnits="userSpaceOnUse" x="18.5" y="252.9" width="64.8" height="85.5" color-interpolation-filters="sRGB"><feTurbulence type="fractalNoise" baseFrequency="0.06 0.1" numOctaves="3" seed="41" result="n1"/><feColorMatrix in="n1" type="matrix" values="1.020 0 0 0 0.067 -0.173 0 0 0 0.294 -0.361 0 0 0 0.694 0 0 0 0 1" result="col"/><feTurbulence type="fractalNoise" baseFrequency="0.3" numOctaves="1" seed="48" result="q0"/><feColorMatrix in="q0" type="matrix" values="0 0 0 0 0.188 0 0 0 0 0.125 0 0 0 0 0.353 4 0 0 0 -2.480" result="L0"/><feTurbulence type="fractalNoise" baseFrequency="0.25" numOctaves="2" seed="55" result="q1"/><feColorMatrix in="q1" type="matrix" values="0 0 0 0 0.627 0 0 0 0 0.533 0 0 0 0 0.753 1 0 0 0 0" result="r1"/><feComponentTransfer in="r1" result="L1"><feFuncA type="table" tableValues="0 0 0 0 0 0 0 0 0.8 0.8 0 0 0 0 0 0 0 0 0 0"/></feComponentTransfer><feTurbulence type="fractalNoise" baseFrequency="0.25" numOctaves="2" seed="62" result="q2"/><feColorMatrix in="q2" type="matrix" values="0 0 0 0 0.925 0 0 0 0 0.784 0 0 0 0 0.894 6 0 0 0 -4.080" result="L2"/><feMerge result="m"><feMergeNode in="col"/><feMergeNode in="L0"/><feMergeNode in="L1"/><feMergeNode in="L2"/></feMerge><feGaussianBlur in="m" stdDeviation="0.45"/></filter><filter id="tpCG" filterUnits="userSpaceOnUse" x="85.7" y="252.9" width="64.4" height="85.5" color-interpolation-filters="sRGB"><feTurbulence type="fractalNoise" baseFrequency="0.12" numOctaves="3" seed="51" result="n1"/><feColorMatrix in="n1" type="matrix" values="0.621 0 0 0 0.395 0.725 0 0 0 0.242 0.362 0 0 0 0.638 0 0 0 0 1" result="col"/><feTurbulence type="fractalNoise" baseFrequency="0.4" numOctaves="1" seed="58" result="q0"/><feColorMatrix in="q0" type="matrix" values="0 0 0 0 0.416 0 0 0 0 0.235 0 0 0 0 0.627 5 0 0 0 -3.200" result="L0"/><feTurbulence type="fractalNoise" baseFrequency="0.2" numOctaves="2" seed="65" result="q1"/><feColorMatrix in="q1" type="matrix" values="0 0 0 0 0.965 0 0 0 0 0.949 0 0 0 0 0.973 1 0 0 0 0" result="r1"/><feComponentTransfer in="r1" result="L1"><feFuncA type="table" tableValues="0 0 0 0 0 0 0 0 0.8 0.8 0 0 0 0 0 0 0 0 0 0"/></feComponentTransfer><feTurbulence type="fractalNoise" baseFrequency="0.15" numOctaves="2" seed="72" result="q2"/><feColorMatrix in="q2" type="matrix" values="0 0 0 0 0.984 0 0 0 0 0.961 0 0 0 0 0.984 8 0 0 0 -4.800" result="L2"/><feMerge result="m"><feMergeNode in="col"/><feMergeNode in="L0"/><feMergeNode in="L1"/><feMergeNode in="L2"/></feMerge><feGaussianBlur in="m" stdDeviation="0.35"/></filter><filter id="thCG" filterUnits="userSpaceOnUse" x="152.9" y="252.9" width="64.9" height="85.5" color-interpolation-filters="sRGB"><feTurbulence type="fractalNoise" baseFrequency="0.13" numOctaves="3" seed="61" result="n1"/><feColorMatrix in="n1" type="matrix" values="0.604 0 0 0 0.494 0.863 0 0 0 0.133 0.397 0 0 0 0.629 0 0 0 0 1" result="col"/><feTurbulence type="fractalNoise" baseFrequency="0.45" numOctaves="1" seed="68" result="q0"/><feColorMatrix in="q0" type="matrix" values="0 0 0 0 0.478 0 0 0 0 0.243 0 0 0 0 0.682 5 0 0 0 -3.200" result="L0"/><feTurbulence type="fractalNoise" baseFrequency="0.2" numOctaves="2" seed="75" result="q1"/><feColorMatrix in="q1" type="matrix" values="0 0 0 0 0.984 0 0 0 0 0.961 0 0 0 0 0.984 1 0 0 0 0" result="r1"/><feComponentTransfer in="r1" result="L1"><feFuncA type="table" tableValues="0 0 0 0 0 0 0 0 0.8 0.8 0 0 0 0 0 0 0 0 0 0"/></feComponentTransfer><feTurbulence type="fractalNoise" baseFrequency="0.24 0.3" numOctaves="2" seed="82" result="q2"/><feColorMatrix in="q2" type="matrix" values="0 0 0 0 0.984 0 0 0 0 0.961 0 0 0 0 0.984 9 0 0 0 -5.130" result="L2"/><feMerge result="m"><feMergeNode in="col"/><feMergeNode in="L0"/><feMergeNode in="L1"/><feMergeNode in="L2"/></feMerge><feGaussianBlur in="m" stdDeviation="0.35"/></filter><filter id="tmIG" filterUnits="userSpaceOnUse" x="18.5" y="341.2" width="64.8" height="86" color-interpolation-filters="sRGB"><feTurbulence type="fractalNoise" baseFrequency="0.08" numOctaves="2" seed="71" result="n1"/><feColorMatrix in="n1" type="matrix" values="0.673 0 0 0 0.138 0.587 0 0 0 -0.097 0.656 0 0 0 0.190 0 0 0 0 1" result="col"/><feTurbulence type="fractalNoise" baseFrequency="0.4" numOctaves="1" seed="78" result="q0"/><feColorMatrix in="q0" type="matrix" values="0 0 0 0 0.251 0 0 0 0 0.031 0 0 0 0 0.306 5 0 0 0 -3.200" result="L0"/><feTurbulence type="fractalNoise" baseFrequency="0.12" numOctaves="3" seed="85" result="q1"/><feColorMatrix in="q1" type="matrix" values="0 0 0 0 0.957 0 0 0 0 0.910 0 0 0 0 0.965 1 0 0 0 0" result="r1"/><feComponentTransfer in="r1" result="L1"><feFuncA type="table" tableValues="0 0 0 0 0 0 0 0.5 1 0.5 0 0 0 0 0 0 0 0 0 0"/></feComponentTransfer><feTurbulence type="fractalNoise" baseFrequency="0.2 0.3" numOctaves="2" seed="92" result="q2"/><feColorMatrix in="q2" type="matrix" values="0 0 0 0 0.984 0 0 0 0 0.961 0 0 0 0 0.984 8 0 0 0 -5.760" result="L2"/><feMerge result="m"><feMergeNode in="col"/><feMergeNode in="L0"/><feMergeNode in="L1"/><feMergeNode in="L2"/></feMerge><feGaussianBlur in="m" stdDeviation="0.35"/></filter><filter id="tpIG" filterUnits="userSpaceOnUse" x="85.7" y="341.2" width="64.4" height="86" color-interpolation-filters="sRGB"><feTurbulence type="fractalNoise" baseFrequency="0.12" numOctaves="3" seed="81" result="n1"/><feColorMatrix in="n1" type="matrix" values="0.552 0 0 0 0.508 0.656 0 0 0 0.386 0.328 0 0 0 0.711 0 0 0 0 1" result="col"/><feTurbulence type="fractalNoise" baseFrequency="0.4" numOctaves="1" seed="88" result="q0"/><feColorMatrix in="q0" type="matrix" values="0 0 0 0 0.541 0 0 0 0 0.392 0 0 0 0 0.706 5 0 0 0 -3.200" result="L0"/><feTurbulence type="fractalNoise" baseFrequency="0.18" numOctaves="2" seed="95" result="q1"/><feColorMatrix in="q1" type="matrix" values="0 0 0 0 0.965 0 0 0 0 0.949 0 0 0 0 0.973 1 0 0 0 0" result="r1"/><feComponentTransfer in="r1" result="L1"><feFuncA type="table" tableValues="0 0 0 0 0 0 0 0 0.8 0.8 0 0 0 0 0 0 0 0 0 0"/></feComponentTransfer><feTurbulence type="fractalNoise" baseFrequency="0.12" numOctaves="2" seed="102" result="q2"/><feColorMatrix in="q2" type="matrix" values="0 0 0 0 0.984 0 0 0 0 0.961 0 0 0 0 0.984 7 0 0 0 -4.200" result="L2"/><feMerge result="m"><feMergeNode in="col"/><feMergeNode in="L0"/><feMergeNode in="L1"/><feMergeNode in="L2"/></feMerge><feGaussianBlur in="m" stdDeviation="0.35"/></filter><filter id="thIG" filterUnits="userSpaceOnUse" x="152.9" y="341.2" width="64.9" height="86" color-interpolation-filters="sRGB"><feTurbulence type="fractalNoise" baseFrequency="0.1" numOctaves="2" seed="91" result="n1"/><feColorMatrix in="n1" type="matrix" values="0.535 0 0 0 0.333 0.535 0 0 0 0.254 0.276 0 0 0 0.685 0 0 0 0 1" result="col"/><feTurbulence type="fractalNoise" baseFrequency="0.45" numOctaves="1" seed="98" result="q0"/><feColorMatrix in="q0" type="matrix" values="0 0 0 0 0.353 0 0 0 0 0.267 0 0 0 0 0.659 5 0 0 0 -3.300" result="L0"/><feTurbulence type="fractalNoise" baseFrequency="0.2" numOctaves="2" seed="105" result="q1"/><feColorMatrix in="q1" type="matrix" values="0 0 0 0 0.957 0 0 0 0 0.941 0 0 0 0 0.980 1 0 0 0 0" result="r1"/><feComponentTransfer in="r1" result="L1"><feFuncA type="table" tableValues="0 0 0 0 0 0 0 0 0.8 0.8 0 0 0 0 0 0 0 0 0 0"/></feComponentTransfer><feTurbulence type="fractalNoise" baseFrequency="0.17" numOctaves="2" seed="112" result="q2"/><feColorMatrix in="q2" type="matrix" values="0 0 0 0 0.984 0 0 0 0 0.973 0 0 0 0 0.992 8 0 0 0 -4.160" result="L2"/><feMerge result="m"><feMergeNode in="col"/><feMergeNode in="L0"/><feMergeNode in="L1"/><feMergeNode in="L2"/></feMerge><feGaussianBlur in="m" stdDeviation="0.35"/></filter><filter id="sb" x="-0.1" y="-0.1" width="1.2" height="1.2"><feGaussianBlur stdDeviation="0.4"/></filter><filter id="mot" color-interpolation-filters="sRGB"><feTurbulence type="fractalNoise" baseFrequency="0.4" numOctaves="2" seed="5"/>
<feColorMatrix type="matrix" values="1.6 0 0 0 0.05 1.6 0 0 0 0.05 1.6 0 0 0 0.05 0 0 0 0 1" result="g"/>
<feBlend in="SourceGraphic" in2="g" mode="multiply"/><feComposite in2="SourceAlpha" operator="in"/></filter><filter id="bb" x="-0.5" y="-0.5" width="2" height="2"><feGaussianBlur stdDeviation="2.5"/></filter><clipPath id="cmSG"><rect x="18.5" y="164.8" width="64.8" height="85.3"/></clipPath><clipPath id="cpSG"><rect x="85.7" y="164.8" width="64.4" height="85.3"/></clipPath><clipPath id="chSG"><rect x="152.9" y="164.8" width="64.9" height="85.3"/></clipPath><clipPath id="cmCG"><rect x="18.5" y="252.9" width="64.8" height="85.5"/></clipPath><clipPath id="cpCG"><rect x="85.7" y="252.9" width="64.4" height="85.5"/></clipPath><clipPath id="chCG"><rect x="152.9" y="252.9" width="64.9" height="85.5"/></clipPath><clipPath id="cmIG"><rect x="18.5" y="341.2" width="64.8" height="86"/></clipPath><clipPath id="cpIG"><rect x="85.7" y="341.2" width="64.4" height="86"/></clipPath><clipPath id="chIG"><rect x="152.9" y="341.2" width="64.9" height="86"/></clipPath></defs>
</svg>
</body></html>
